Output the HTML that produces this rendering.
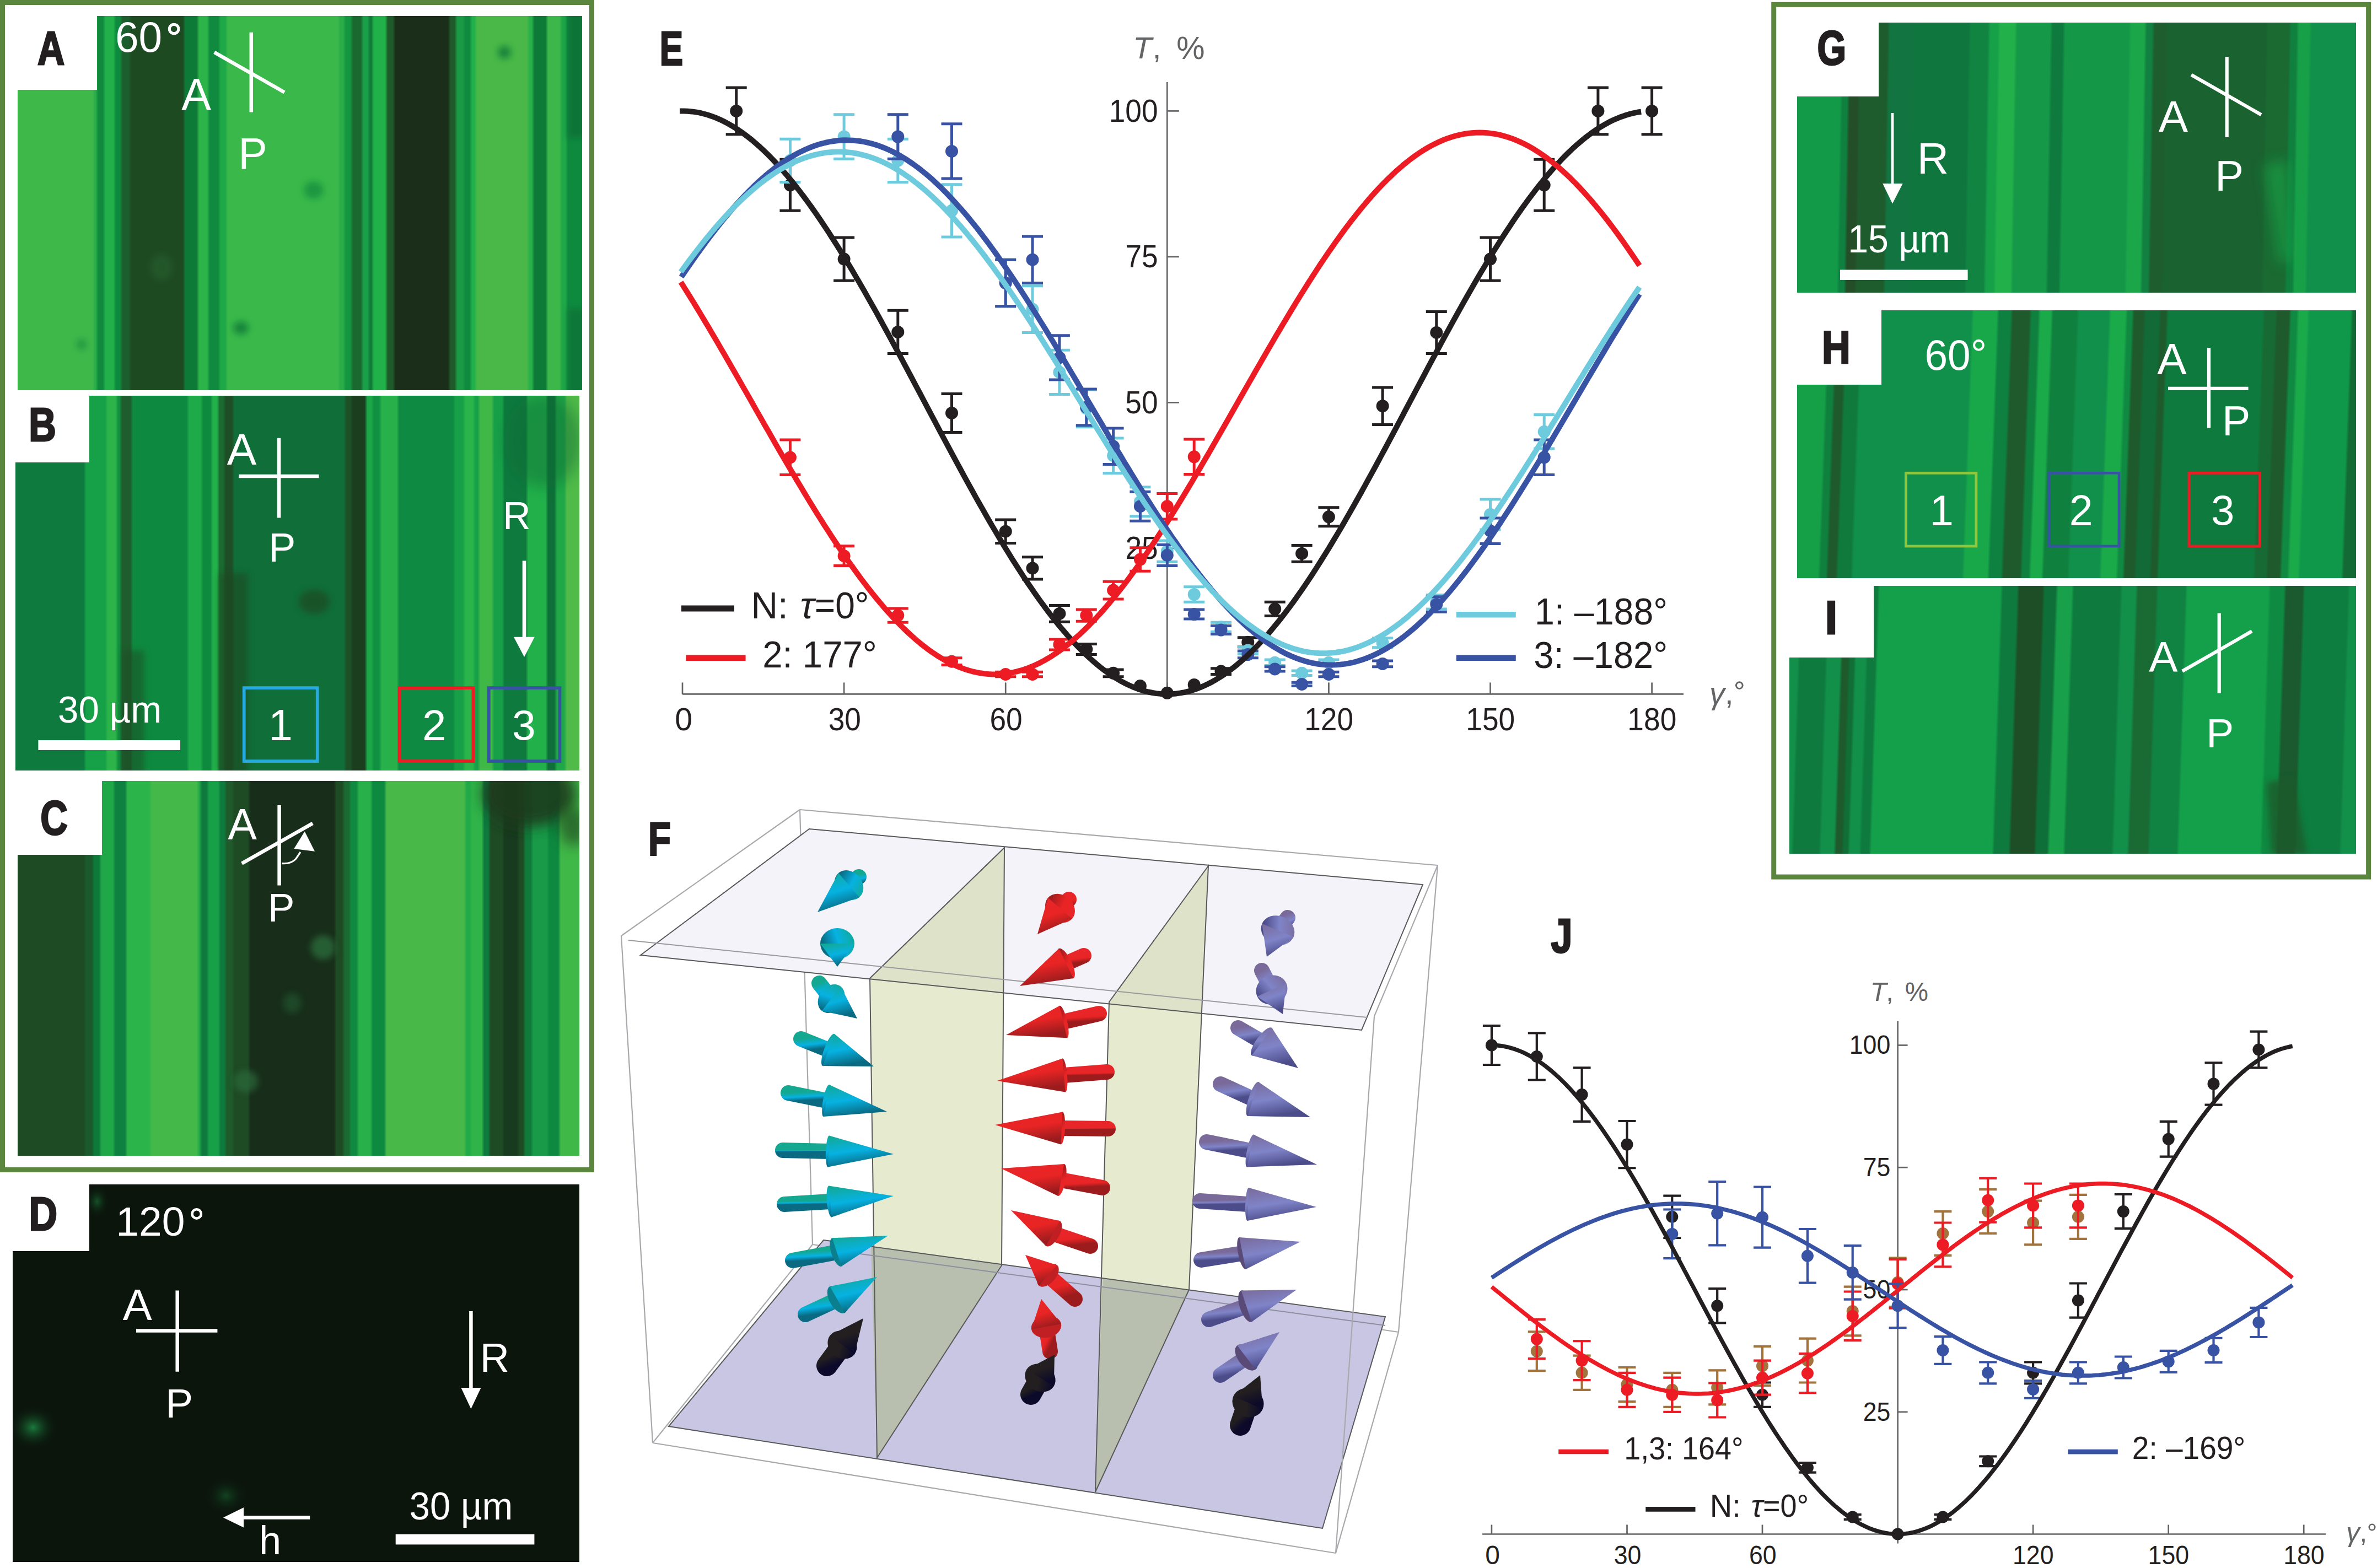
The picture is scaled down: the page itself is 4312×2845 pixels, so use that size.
<!DOCTYPE html>
<html><head><meta charset="utf-8"><style>
html,body{margin:0;padding:0;background:#fff;}
svg{display:block;}
text{font-family:"Liberation Sans", sans-serif;font-kerning:none;}
</style></head><body>
<svg width="4312" height="2845" viewBox="0 0 4312 2845">
<defs>
<linearGradient id="gA" gradientUnits="userSpaceOnUse" x1="32" y1="0" x2="1056" y2="0"><stop offset="0.00000" stop-color="#3fb84a"/><stop offset="0.13232" stop-color="#3fb84a"/><stop offset="0.13721" stop-color="#2aae4a"/><stop offset="0.13818" stop-color="#2aae4a"/><stop offset="0.14307" stop-color="#0f8a3e"/><stop offset="0.15088" stop-color="#0f8a3e"/><stop offset="0.15576" stop-color="#22b04a"/><stop offset="0.16943" stop-color="#22b04a"/><stop offset="0.17432" stop-color="#0e8a3e"/><stop offset="0.18115" stop-color="#0e8a3e"/><stop offset="0.18604" stop-color="#1d5e2e"/><stop offset="0.19678" stop-color="#1d5e2e"/><stop offset="0.20166" stop-color="#1e4a22"/><stop offset="0.29248" stop-color="#1e4a22"/><stop offset="0.29736" stop-color="#0e7a38"/><stop offset="0.31689" stop-color="#0e7a38"/><stop offset="0.32178" stop-color="#2cb44a"/><stop offset="0.33545" stop-color="#2cb44a"/><stop offset="0.34033" stop-color="#0f8a3e"/><stop offset="0.35498" stop-color="#0f8a3e"/><stop offset="0.35986" stop-color="#1fa848"/><stop offset="0.36768" stop-color="#1fa848"/><stop offset="0.37256" stop-color="#3ab84a"/><stop offset="0.56689" stop-color="#3ab84a"/><stop offset="0.57178" stop-color="#2aac48"/><stop offset="0.57666" stop-color="#2aac48"/><stop offset="0.58154" stop-color="#14953f"/><stop offset="0.58936" stop-color="#14953f"/><stop offset="0.59424" stop-color="#1a6a30"/><stop offset="0.60791" stop-color="#1a6a30"/><stop offset="0.61279" stop-color="#1aa048"/><stop offset="0.61963" stop-color="#1aa048"/><stop offset="0.62451" stop-color="#107a38"/><stop offset="0.62646" stop-color="#107a38"/><stop offset="0.63135" stop-color="#22b04a"/><stop offset="0.65088" stop-color="#22b04a"/><stop offset="0.65576" stop-color="#1f5a2a"/><stop offset="0.66455" stop-color="#1f5a2a"/><stop offset="0.66943" stop-color="#1a2e1a"/><stop offset="0.76221" stop-color="#1a2e1a"/><stop offset="0.76709" stop-color="#1f5a2a"/><stop offset="0.77393" stop-color="#1f5a2a"/><stop offset="0.77881" stop-color="#1a9a45"/><stop offset="0.78857" stop-color="#1a9a45"/><stop offset="0.79346" stop-color="#0f8a3e"/><stop offset="0.80029" stop-color="#0f8a3e"/><stop offset="0.80518" stop-color="#22b04a"/><stop offset="0.80908" stop-color="#22b04a"/><stop offset="0.81396" stop-color="#4ab848"/><stop offset="0.90186" stop-color="#4ab848"/><stop offset="0.90674" stop-color="#2ab04a"/><stop offset="0.91064" stop-color="#2ab04a"/><stop offset="0.91553" stop-color="#0e7a38"/><stop offset="0.93506" stop-color="#0e7a38"/><stop offset="0.93994" stop-color="#3cb84a"/><stop offset="0.95947" stop-color="#3cb84a"/><stop offset="0.96436" stop-color="#20a848"/><stop offset="0.97021" stop-color="#20a848"/><stop offset="0.97510" stop-color="#0e8a3e"/><stop offset="1.00000" stop-color="#0e8a3e"/></linearGradient>
<linearGradient id="gB" gradientUnits="userSpaceOnUse" x1="28" y1="0" x2="1051" y2="0"><stop offset="0.00000" stop-color="#0e7a3e"/><stop offset="0.12072" stop-color="#0e7a3e"/><stop offset="0.12561" stop-color="#16a048"/><stop offset="0.15885" stop-color="#16a048"/><stop offset="0.16373" stop-color="#2cb44a"/><stop offset="0.17742" stop-color="#2cb44a"/><stop offset="0.18231" stop-color="#129040"/><stop offset="0.18426" stop-color="#129040"/><stop offset="0.18915" stop-color="#1e5e2e"/><stop offset="0.20381" stop-color="#1e5e2e"/><stop offset="0.20870" stop-color="#0e8a40"/><stop offset="0.30352" stop-color="#0e8a40"/><stop offset="0.30841" stop-color="#1eaa48"/><stop offset="0.32796" stop-color="#1eaa48"/><stop offset="0.33284" stop-color="#0e8a3e"/><stop offset="0.34555" stop-color="#0e8a3e"/><stop offset="0.35044" stop-color="#22b04a"/><stop offset="0.35728" stop-color="#22b04a"/><stop offset="0.36217" stop-color="#1a6a32"/><stop offset="0.36804" stop-color="#1a6a32"/><stop offset="0.37292" stop-color="#1e4e26"/><stop offset="0.38368" stop-color="#1e4e26"/><stop offset="0.38856" stop-color="#106e38"/><stop offset="0.58211" stop-color="#106e38"/><stop offset="0.58700" stop-color="#1e5028"/><stop offset="0.59384" stop-color="#1e5028"/><stop offset="0.59873" stop-color="#1a3e1e"/><stop offset="0.61926" stop-color="#1a3e1e"/><stop offset="0.62414" stop-color="#1ca648"/><stop offset="0.63099" stop-color="#1ca648"/><stop offset="0.63587" stop-color="#109040"/><stop offset="0.64467" stop-color="#109040"/><stop offset="0.64956" stop-color="#28b04a"/><stop offset="0.67595" stop-color="#28b04a"/><stop offset="0.68084" stop-color="#0f8a42"/><stop offset="0.77566" stop-color="#0f8a42"/><stop offset="0.78055" stop-color="#18a048"/><stop offset="0.79326" stop-color="#18a048"/><stop offset="0.79814" stop-color="#2ab44a"/><stop offset="0.81085" stop-color="#2ab44a"/><stop offset="0.81574" stop-color="#18a048"/><stop offset="0.81965" stop-color="#18a048"/><stop offset="0.82454" stop-color="#40b848"/><stop offset="0.84409" stop-color="#40b848"/><stop offset="0.84897" stop-color="#18a048"/><stop offset="0.86266" stop-color="#18a048"/><stop offset="0.86755" stop-color="#0e7a3e"/><stop offset="0.90469" stop-color="#0e7a3e"/><stop offset="0.90958" stop-color="#22b04a"/><stop offset="0.93988" stop-color="#22b04a"/><stop offset="0.94477" stop-color="#0e7038"/><stop offset="0.95552" stop-color="#0e7038"/><stop offset="0.96041" stop-color="#20a848"/><stop offset="0.97312" stop-color="#20a848"/><stop offset="0.97801" stop-color="#50bb48"/><stop offset="1.00000" stop-color="#50bb48"/></linearGradient>
<linearGradient id="gC" gradientUnits="userSpaceOnUse" x1="32" y1="0" x2="1051" y2="0"><stop offset="0.00000" stop-color="#1e4a24"/><stop offset="0.11727" stop-color="#1e4a24"/><stop offset="0.12218" stop-color="#1a5a2c"/><stop offset="0.13199" stop-color="#1a5a2c"/><stop offset="0.13690" stop-color="#0e7a3a"/><stop offset="0.14475" stop-color="#0e7a3a"/><stop offset="0.14966" stop-color="#20a848"/><stop offset="0.16928" stop-color="#20a848"/><stop offset="0.17419" stop-color="#0e8040"/><stop offset="0.19087" stop-color="#0e8040"/><stop offset="0.19578" stop-color="#2ab44a"/><stop offset="0.23405" stop-color="#2ab44a"/><stop offset="0.23896" stop-color="#44b848"/><stop offset="0.31845" stop-color="#44b848"/><stop offset="0.32336" stop-color="#22aa48"/><stop offset="0.32336" stop-color="#22aa48"/><stop offset="0.32826" stop-color="#0e7a3e"/><stop offset="0.33611" stop-color="#0e7a3e"/><stop offset="0.34102" stop-color="#18a048"/><stop offset="0.35672" stop-color="#18a048"/><stop offset="0.36163" stop-color="#0e7a3e"/><stop offset="0.36752" stop-color="#0e7a3e"/><stop offset="0.37242" stop-color="#1e5a2c"/><stop offset="0.38126" stop-color="#1e5a2c"/><stop offset="0.38616" stop-color="#1e4a24"/><stop offset="0.40972" stop-color="#1e4a24"/><stop offset="0.41462" stop-color="#182e1a"/><stop offset="0.56281" stop-color="#182e1a"/><stop offset="0.56771" stop-color="#1e4a24"/><stop offset="0.57753" stop-color="#1e4a24"/><stop offset="0.58243" stop-color="#1a6a32"/><stop offset="0.58930" stop-color="#1a6a32"/><stop offset="0.59421" stop-color="#108a40"/><stop offset="0.60304" stop-color="#108a40"/><stop offset="0.60795" stop-color="#28b04a"/><stop offset="0.62758" stop-color="#28b04a"/><stop offset="0.63248" stop-color="#0e8a40"/><stop offset="0.65211" stop-color="#0e8a40"/><stop offset="0.65702" stop-color="#48b848"/><stop offset="0.79441" stop-color="#48b848"/><stop offset="0.79931" stop-color="#22aa48"/><stop offset="0.80422" stop-color="#22aa48"/><stop offset="0.80913" stop-color="#30b44a"/><stop offset="0.82581" stop-color="#30b44a"/><stop offset="0.83072" stop-color="#0e7a3e"/><stop offset="0.83759" stop-color="#0e7a3e"/><stop offset="0.84249" stop-color="#1e4a24"/><stop offset="0.86212" stop-color="#1e4a24"/><stop offset="0.86703" stop-color="#183a1e"/><stop offset="0.88862" stop-color="#183a1e"/><stop offset="0.89352" stop-color="#1e4a24"/><stop offset="0.89941" stop-color="#1e4a24"/><stop offset="0.90432" stop-color="#107a3a"/><stop offset="0.91315" stop-color="#107a3a"/><stop offset="0.91806" stop-color="#189a48"/><stop offset="0.94161" stop-color="#189a48"/><stop offset="0.94652" stop-color="#0e8a40"/><stop offset="0.96222" stop-color="#0e8a40"/><stop offset="0.96712" stop-color="#40b848"/><stop offset="1.00000" stop-color="#40b848"/></linearGradient>
<radialGradient id="blob1"><stop offset="0" stop-color="#1b7a3c" stop-opacity="1"/><stop offset="1" stop-color="#0b150c" stop-opacity="0"/></radialGradient>
<clipPath id="cpD"><path d="M162 2149 H1051 V2834 H23 V2270 H162 Z"/></clipPath>
<linearGradient id="gG" gradientUnits="userSpaceOnUse" x1="3260" y1="0" x2="4274" y2="0" gradientTransform="translate(0 300) skewX(-1) translate(0 -300)"><stop offset="0.00000" stop-color="#129a48"/><stop offset="0.07446" stop-color="#129a48"/><stop offset="0.07939" stop-color="#0f8040"/><stop offset="0.08728" stop-color="#0f8040"/><stop offset="0.09221" stop-color="#244e28"/><stop offset="0.10602" stop-color="#244e28"/><stop offset="0.11095" stop-color="#1e5c2e"/><stop offset="0.15730" stop-color="#1e5c2e"/><stop offset="0.16223" stop-color="#127440"/><stop offset="0.20168" stop-color="#127440"/><stop offset="0.20661" stop-color="#0f763d"/><stop offset="0.30227" stop-color="#0f763d"/><stop offset="0.30720" stop-color="#118442"/><stop offset="0.33679" stop-color="#118442"/><stop offset="0.34172" stop-color="#16a048"/><stop offset="0.35454" stop-color="#16a048"/><stop offset="0.35947" stop-color="#22b04a"/><stop offset="0.38511" stop-color="#22b04a"/><stop offset="0.39004" stop-color="#159848"/><stop offset="0.44822" stop-color="#159848"/><stop offset="0.45316" stop-color="#0e7a3e"/><stop offset="0.47091" stop-color="#0e7a3e"/><stop offset="0.47584" stop-color="#149848"/><stop offset="0.58925" stop-color="#149848"/><stop offset="0.59418" stop-color="#1ca64a"/><stop offset="0.61686" stop-color="#1ca64a"/><stop offset="0.62179" stop-color="#118040"/><stop offset="0.63067" stop-color="#118040"/><stop offset="0.63560" stop-color="#1e5e2e"/><stop offset="0.65533" stop-color="#1e5e2e"/><stop offset="0.66026" stop-color="#1a6230"/><stop offset="0.83383" stop-color="#1a6230"/><stop offset="0.83876" stop-color="#1a6a32"/><stop offset="0.87525" stop-color="#1a6a32"/><stop offset="0.88018" stop-color="#10803e"/><stop offset="0.88905" stop-color="#10803e"/><stop offset="0.89398" stop-color="#18a048"/><stop offset="0.91174" stop-color="#18a048"/><stop offset="0.91667" stop-color="#10904a"/><stop offset="1.00000" stop-color="#10904a"/></linearGradient>
<linearGradient id="gH" gradientUnits="userSpaceOnUse" x1="3260" y1="0" x2="4274" y2="0" gradientTransform="translate(0 830) skewX(-2.1) translate(0 -830)"><stop offset="0.00000" stop-color="#15a048"/><stop offset="0.04487" stop-color="#15a048"/><stop offset="0.04980" stop-color="#10803e"/><stop offset="0.05868" stop-color="#10803e"/><stop offset="0.06361" stop-color="#1e5a2c"/><stop offset="0.07643" stop-color="#1e5a2c"/><stop offset="0.08136" stop-color="#107a3c"/><stop offset="0.10306" stop-color="#107a3c"/><stop offset="0.10799" stop-color="#10904a"/><stop offset="0.30227" stop-color="#10904a"/><stop offset="0.30720" stop-color="#18a84a"/><stop offset="0.34763" stop-color="#18a84a"/><stop offset="0.35256" stop-color="#0e8040"/><stop offset="0.37229" stop-color="#0e8040"/><stop offset="0.37722" stop-color="#1e5a2c"/><stop offset="0.40582" stop-color="#1e5a2c"/><stop offset="0.41075" stop-color="#10803e"/><stop offset="0.42160" stop-color="#10803e"/><stop offset="0.42653" stop-color="#1aaa4a"/><stop offset="0.44428" stop-color="#1aaa4a"/><stop offset="0.44921" stop-color="#10803e"/><stop offset="0.49063" stop-color="#10803e"/><stop offset="0.49556" stop-color="#10904a"/><stop offset="0.54783" stop-color="#10904a"/><stop offset="0.55276" stop-color="#1aaa4a"/><stop offset="0.57742" stop-color="#1aaa4a"/><stop offset="0.58235" stop-color="#108a42"/><stop offset="0.58925" stop-color="#108a42"/><stop offset="0.59418" stop-color="#1e5a2c"/><stop offset="0.60996" stop-color="#1e5a2c"/><stop offset="0.61489" stop-color="#126a36"/><stop offset="0.63757" stop-color="#126a36"/><stop offset="0.64250" stop-color="#1e5a2c"/><stop offset="0.65039" stop-color="#1e5a2c"/><stop offset="0.65533" stop-color="#0e7a3e"/><stop offset="0.82298" stop-color="#0e7a3e"/><stop offset="0.82791" stop-color="#186a34"/><stop offset="0.84566" stop-color="#186a34"/><stop offset="0.85059" stop-color="#1e5a2c"/><stop offset="0.87032" stop-color="#1e5a2c"/><stop offset="0.87525" stop-color="#108a42"/><stop offset="0.88412" stop-color="#108a42"/><stop offset="0.88905" stop-color="#1aaa4a"/><stop offset="0.90286" stop-color="#1aaa4a"/><stop offset="0.90779" stop-color="#10984a"/><stop offset="0.98077" stop-color="#10984a"/><stop offset="0.98570" stop-color="#146a34"/><stop offset="1.00000" stop-color="#146a34"/></linearGradient>
<linearGradient id="gI" gradientUnits="userSpaceOnUse" x1="3246" y1="0" x2="4274" y2="0" gradientTransform="translate(0 1350) skewX(-1.9) translate(0 -1350)"><stop offset="0.00000" stop-color="#12904a"/><stop offset="0.00924" stop-color="#12904a"/><stop offset="0.01411" stop-color="#0e7a3e"/><stop offset="0.05788" stop-color="#0e7a3e"/><stop offset="0.06274" stop-color="#12904a"/><stop offset="0.08414" stop-color="#12904a"/><stop offset="0.08901" stop-color="#1e5a2c"/><stop offset="0.09776" stop-color="#1e5a2c"/><stop offset="0.10263" stop-color="#106e36"/><stop offset="0.10846" stop-color="#106e36"/><stop offset="0.11333" stop-color="#12904a"/><stop offset="0.12889" stop-color="#12904a"/><stop offset="0.13375" stop-color="#0e7a3e"/><stop offset="0.14640" stop-color="#0e7a3e"/><stop offset="0.15126" stop-color="#14a04a"/><stop offset="0.36333" stop-color="#14a04a"/><stop offset="0.36819" stop-color="#0e7a3e"/><stop offset="0.39251" stop-color="#0e7a3e"/><stop offset="0.39737" stop-color="#1e4e26"/><stop offset="0.43726" stop-color="#1e4e26"/><stop offset="0.44212" stop-color="#0e7038"/><stop offset="0.46060" stop-color="#0e7038"/><stop offset="0.46547" stop-color="#18a04a"/><stop offset="0.48881" stop-color="#18a04a"/><stop offset="0.49368" stop-color="#0e7a3e"/><stop offset="0.57442" stop-color="#0e7a3e"/><stop offset="0.57928" stop-color="#12904a"/><stop offset="0.60165" stop-color="#12904a"/><stop offset="0.60652" stop-color="#1a6a34"/><stop offset="0.63765" stop-color="#1a6a34"/><stop offset="0.64251" stop-color="#108242"/><stop offset="0.68920" stop-color="#108242"/><stop offset="0.69407" stop-color="#14a04a"/><stop offset="0.83609" stop-color="#14a04a"/><stop offset="0.84095" stop-color="#0f8a42"/><stop offset="0.86333" stop-color="#0f8a42"/><stop offset="0.86819" stop-color="#1a5a2e"/><stop offset="0.89640" stop-color="#1a5a2e"/><stop offset="0.90126" stop-color="#0e7e40"/><stop offset="0.91294" stop-color="#0e7e40"/><stop offset="0.91780" stop-color="#0e7e40"/><stop offset="0.97617" stop-color="#0e7e40"/><stop offset="0.98103" stop-color="#12904a"/><stop offset="1.00000" stop-color="#12904a"/></linearGradient>
<filter id="bl6" x="-50%" y="-50%" width="200%" height="200%"><feGaussianBlur stdDeviation="6"/></filter>
<filter id="bl12" x="-50%" y="-50%" width="200%" height="200%"><feGaussianBlur stdDeviation="12"/></filter>
<clipPath id="cpA"><path d="M176 29 H1056 V708 H32 V163 H176 Z"/></clipPath>
<clipPath id="cpB"><path d="M162 718 H1051 V1398 H28 V839 H162 Z"/></clipPath>
<clipPath id="cpC"><path d="M185 1417 H1051 V2097 H32 V1551 H185 Z"/></clipPath>
<clipPath id="cpI"><path d="M3399 1063 H4274 V1549 H3246 V1193 H3399 Z"/></clipPath>
<clipPath id="cpG"><path d="M3408 41 H4274 V531 H3260 V175 H3408 Z"/></clipPath>

<linearGradient id="acy" x1="0" y1="0" x2="0.3" y2="1"><stop offset="0" stop-color="#14a890"/><stop offset="0.55" stop-color="#06b2e2"/><stop offset="1" stop-color="#0a6a82"/></linearGradient>
<linearGradient id="are" x1="0" y1="0" x2="0.3" y2="1"><stop offset="0" stop-color="#e8262a"/><stop offset="0.55" stop-color="#e82424"/><stop offset="1" stop-color="#9c1c1e"/></linearGradient>
<linearGradient id="apu" x1="0" y1="0" x2="0.3" y2="1"><stop offset="0" stop-color="#7a6a9a"/><stop offset="0.55" stop-color="#7f84c8"/><stop offset="1" stop-color="#4c4c8a"/></linearGradient>
<linearGradient id="abk" x1="0" y1="0" x2="0.3" y2="1"><stop offset="0" stop-color="#231f20"/><stop offset="0.55" stop-color="#231f20"/><stop offset="1" stop-color="#0c0a2a"/></linearGradient>
</defs>
<rect width="4312" height="2845" fill="#fff"/>
<rect x="4.5" y="4.5" width="1069" height="2118" fill="none" stroke="#5a873d" stroke-width="9"/>
<path d="M176.0 29.0 H1056.0 V708.0 H32.0 V163.0 H176.0 Z" fill="url(#gA)"/>
<g clip-path="url(#cpA)"><ellipse cx="915.0" cy="95.0" rx="12.0" ry="12.0" fill="#0f7a38" opacity="0.80" filter="url(#bl6)"/><ellipse cx="569.0" cy="345.0" rx="18.0" ry="16.0" fill="#14903f" opacity="0.80" filter="url(#bl6)"/><ellipse cx="437.0" cy="595.0" rx="14.0" ry="12.0" fill="#0f7a38" opacity="0.80" filter="url(#bl6)"/><ellipse cx="148.0" cy="625.0" rx="10.0" ry="10.0" fill="#14903f" opacity="0.70" filter="url(#bl6)"/><ellipse cx="293.0" cy="485.0" rx="20.0" ry="24.0" fill="#2a6a34" opacity="0.40" filter="url(#bl6)"/><rect x="1030" y="20" width="30" height="230" fill="#0e6a36" opacity="0.7" filter="url(#bl6)"/><rect x="1030" y="560" width="30" height="160" fill="#0e6a36" opacity="0.6" filter="url(#bl6)"/></g>
<text transform="translate(68.00 116.80) scale(0.796 1)" font-size="85.61" font-weight="bold" fill="#231f20" stroke="#231f20" stroke-width="3.0" stroke-linejoin="miter">A</text>
<text x="209.01" y="94.40" font-size="78.05" fill="#fff" font-weight="normal" font-style="normal" textLength="85.18" lengthAdjust="spacingAndGlyphs" >60</text>
<circle cx="315.6" cy="52.5" r="8.3" fill="none" stroke="#fff" stroke-width="5.0"/>
<line x1="455.8" y1="58.8" x2="455.8" y2="203.6" stroke="#fff" stroke-width="6.5" stroke-linecap="butt" />
<line x1="388.8" y1="94.9" x2="516.0" y2="167.5" stroke="#fff" stroke-width="6.5" stroke-linecap="butt" />
<text x="329.34" y="199.00" font-size="80.67" fill="#fff" font-weight="normal" font-style="normal" >A</text>
<text x="432.24" y="306.40" font-size="78.78" fill="#fff" font-weight="normal" font-style="normal" >P</text>
<path d="M162.0 718.0 H1051.0 V1398.0 H28.0 V839.0 H162.0 Z" fill="url(#gB)"/>
<g clip-path="url(#cpB)"><ellipse cx="985.0" cy="800.0" rx="70.0" ry="85.0" fill="#0f6a36" opacity="0.45" filter="url(#bl12)"/><ellipse cx="570.0" cy="1092.0" rx="28.0" ry="22.0" fill="#1e4a24" opacity="0.70" filter="url(#bl6)"/><rect x="398" y="1040" width="52" height="370" fill="#1e4a24" opacity="0.6" filter="url(#bl6)"/><rect x="222" y="1180" width="40" height="230" fill="#1e4a24" opacity="0.5" filter="url(#bl6)"/></g>
<text transform="translate(52.31 800.20) scale(0.805 1)" font-size="85.32" font-weight="bold" fill="#231f20" stroke="#231f20" stroke-width="3.0" stroke-linejoin="miter">B</text>
<line x1="506.0" y1="794.7" x2="506.0" y2="939.5" stroke="#fff" stroke-width="6.6" stroke-linecap="butt" />
<line x1="433.2" y1="864.0" x2="578.5" y2="864.0" stroke="#fff" stroke-width="6.6" stroke-linecap="butt" />
<text x="411.84" y="842.80" font-size="80.23" fill="#fff" font-weight="normal" font-style="normal" >A</text>
<text x="486.93" y="1018.80" font-size="73.98" fill="#fff" font-weight="normal" font-style="normal" >P</text>
<text x="912.28" y="960.00" font-size="69.77" fill="#fff" font-weight="normal" font-style="normal" >R</text>
<line x1="951.0" y1="1017.4" x2="951.0" y2="1157.0" stroke="#fff" stroke-width="6.6" stroke-linecap="butt" />
<polygon points="932.0,1155.7 969.8,1155.7 951.0,1192.0" fill="#fff" />
<text x="105.04" y="1311.30" font-size="67.74" fill="#fff" font-weight="normal" font-style="normal" textLength="188.19" lengthAdjust="spacingAndGlyphs" >30 µm</text>
<rect x="69.4" y="1343.0" width="257.6" height="18.0" fill="#fff"/>
<rect x="442.7" y="1248.1" width="133.0" height="133.0" fill="none" stroke="#27aae1" stroke-width="5.7"/>
<rect x="724.9" y="1248.1" width="133.5" height="133.0" fill="none" stroke="#ed1c24" stroke-width="5.7"/>
<rect x="886.8" y="1248.1" width="128.7" height="133.0" fill="none" stroke="#3953a4" stroke-width="5.7"/>
<text x="486.99" y="1343.00" font-size="78.93" fill="#fff" font-weight="normal" font-style="normal" >1</text>
<text x="766.09" y="1343.00" font-size="77.77" fill="#fff" font-weight="normal" font-style="normal" >2</text>
<text x="929.08" y="1342.30" font-size="76.76" fill="#fff" font-weight="normal" font-style="normal" >3</text>
<path d="M185.0 1417.0 H1051.0 V2097.0 H32.0 V1551.0 H185.0 Z" fill="url(#gC)"/>
<g clip-path="url(#cpC)"><ellipse cx="960.0" cy="1440.0" rx="85.0" ry="60.0" fill="#1a3a1e" opacity="0.90" filter="url(#bl12)"/><ellipse cx="1040.0" cy="1500.0" rx="25.0" ry="35.0" fill="#1a3a1e" opacity="0.60" filter="url(#bl12)"/><ellipse cx="586.0" cy="1719.0" rx="22.0" ry="22.0" fill="#2a6a3a" opacity="0.80" filter="url(#bl6)"/><ellipse cx="446.0" cy="1962.0" rx="22.0" ry="20.0" fill="#2a6a3a" opacity="0.70" filter="url(#bl6)"/><ellipse cx="530.0" cy="1820.0" rx="16.0" ry="18.0" fill="#245a30" opacity="0.60" filter="url(#bl6)"/></g>
<text transform="translate(73.36 1513.50) scale(0.782 1)" font-size="87.65" font-weight="bold" fill="#231f20" stroke="#231f20" stroke-width="3.0" stroke-linejoin="miter">C</text>
<line x1="506.6" y1="1461.0" x2="506.6" y2="1606.4" stroke="#fff" stroke-width="6.5" stroke-linecap="butt" />
<line x1="438.7" y1="1566.6" x2="567.2" y2="1493.9" stroke="#fff" stroke-width="6.5" stroke-linecap="butt" />
<text x="413.35" y="1523.00" font-size="78.93" fill="#fff" font-weight="normal" font-style="normal" >A</text>
<text x="486.05" y="1672.30" font-size="72.53" fill="#fff" font-weight="normal" font-style="normal" >P</text>
<path d="M511.5 1566.6 Q528 1568 537 1558 L545 1546" fill="none" stroke="#fff" stroke-width="3.2"/>
<polygon points="533.3,1540.0 552.7,1508.5 571.0,1544.8" fill="#fff" />
<path d="M162 2149 H1051 V2834 H23 V2270 H162 Z" fill="#0b150c"/>
<g clip-path="url(#cpD)">
<ellipse cx="60" cy="2590" rx="45" ry="40" fill="url(#blob1)"/>
<ellipse cx="410" cy="2714" rx="40" ry="35" fill="url(#blob1)" opacity="0.45"/>
<ellipse cx="176" cy="2180" rx="22" ry="30" fill="url(#blob1)" opacity="0.6"/>
</g>
<text transform="translate(52.48 2231.50) scale(0.837 1)" font-size="85.32" font-weight="bold" fill="#231f20" stroke="#231f20" stroke-width="3.0" stroke-linejoin="miter">D</text>
<text x="210.28" y="2241.50" font-size="73.76" fill="#fff" font-weight="normal" font-style="normal" textLength="125.25" lengthAdjust="spacingAndGlyphs" >120</text>
<circle cx="356.7" cy="2202.4" r="8.2" fill="none" stroke="#fff" stroke-width="4.6"/>
<line x1="321.7" y1="2341.4" x2="321.7" y2="2488.7" stroke="#fff" stroke-width="6.5" stroke-linecap="butt" />
<line x1="247.0" y1="2414.6" x2="394.4" y2="2414.6" stroke="#fff" stroke-width="6.5" stroke-linecap="butt" />
<text x="222.84" y="2394.60" font-size="79.36" fill="#fff" font-weight="normal" font-style="normal" >A</text>
<text x="300.37" y="2572.00" font-size="74.71" fill="#fff" font-weight="normal" font-style="normal" >P</text>
<text x="870.65" y="2488.70" font-size="73.69" fill="#fff" font-weight="normal" font-style="normal" >R</text>
<line x1="854.4" y1="2379.0" x2="854.4" y2="2520.6" stroke="#fff" stroke-width="6.5" stroke-linecap="butt" />
<polygon points="836.4,2518.0 872.5,2518.0 854.4,2556.2" fill="#fff" />
<line x1="440.0" y1="2753.4" x2="562.2" y2="2753.4" stroke="#fff" stroke-width="6.5" stroke-linecap="butt" />
<polygon points="404.9,2753.4 442.0,2735.3 442.0,2771.5" fill="#fff" />
<text x="470.00" y="2820.00" font-size="72.18" fill="#fff" font-weight="normal" font-style="normal" >h</text>
<text x="742.85" y="2756.50" font-size="69.46" fill="#fff" font-weight="normal" font-style="normal" textLength="187.46" lengthAdjust="spacingAndGlyphs" >30 µm</text>
<rect x="717.7" y="2783.7" width="251.7" height="18.7" fill="#fff"/>
<rect x="3217.7" y="8.3" width="1078.9" height="1582.8" fill="none" stroke="#5a873d" stroke-width="9"/>
<path d="M3408.0 41.0 H4274.0 V531.0 H3260.0 V175.0 H3408.0 Z" fill="url(#gG)"/>
<g clip-path="url(#cpG)"><polygon points="4108,300 4150,290 4160,470 4135,480" fill="#18a848" opacity="0.6" filter="url(#bl12)"/></g>
<text transform="translate(3296.40 116.90) scale(0.783 1)" font-size="86.34" font-weight="bold" fill="#231f20" stroke="#231f20" stroke-width="3.0" stroke-linejoin="miter">G</text>
<line x1="3433.0" y1="205.0" x2="3433.0" y2="335.0" stroke="#fff" stroke-width="4.7" stroke-linecap="butt" />
<polygon points="3415.2,333.0 3451.7,333.0 3433.0,369.6" fill="#fff" />
<text x="3477.69" y="314.80" font-size="79.36" fill="#fff" font-weight="normal" font-style="normal" >R</text>
<text x="3352.15" y="457.50" font-size="70.79" fill="#fff" font-weight="normal" font-style="normal" textLength="185.52" lengthAdjust="spacingAndGlyphs" >15 µm</text>
<rect x="3338.0" y="489.5" width="231.6" height="18.5" fill="#fff"/>
<line x1="4039.7" y1="102.9" x2="4039.7" y2="248.9" stroke="#fff" stroke-width="6.2" stroke-linecap="butt" />
<line x1="3975.1" y1="135.7" x2="4102.0" y2="208.2" stroke="#fff" stroke-width="6.2" stroke-linecap="butt" />
<text x="3915.84" y="239.00" font-size="79.94" fill="#fff" font-weight="normal" font-style="normal" >A</text>
<text x="4018.33" y="346.40" font-size="77.62" fill="#fff" font-weight="normal" font-style="normal" >P</text>
<path d="M3413.0 563.0 H4274.0 V1049.0 H3260.0 V698.0 H3413.0 Z" fill="url(#gH)"/>
<text transform="translate(3304.99 658.80) scale(0.852 1)" font-size="84.01" font-weight="bold" fill="#231f20" stroke="#231f20" stroke-width="3.0" stroke-linejoin="miter">H</text>
<text x="3491.41" y="670.60" font-size="77.05" fill="#fff" font-weight="normal" font-style="normal" textLength="83.11" lengthAdjust="spacingAndGlyphs" >60</text>
<circle cx="3589.4" cy="626.3" r="8.4" fill="none" stroke="#fff" stroke-width="4.1"/>
<line x1="4007.0" y1="630.9" x2="4007.0" y2="776.4" stroke="#fff" stroke-width="6.2" stroke-linecap="butt" />
<line x1="3933.0" y1="704.8" x2="4078.5" y2="704.8" stroke="#fff" stroke-width="6.2" stroke-linecap="butt" />
<text x="3913.24" y="679.00" font-size="80.09" fill="#fff" font-weight="normal" font-style="normal" >A</text>
<text x="4031.09" y="790.40" font-size="76.89" fill="#fff" font-weight="normal" font-style="normal" >P</text>
<rect x="3457.4" y="858.3" width="127.5" height="132.7" fill="none" stroke="#8dc63f" stroke-width="4.8"/>
<rect x="3717.0" y="858.3" width="127.1" height="132.7" fill="none" stroke="#3953a4" stroke-width="4.8"/>
<rect x="3971.0" y="858.3" width="128.1" height="132.7" fill="none" stroke="#ed1c24" stroke-width="4.8"/>
<text x="3500.44" y="952.70" font-size="78.20" fill="#fff" font-weight="normal" font-style="normal" >1</text>
<text x="3753.72" y="952.70" font-size="77.05" fill="#fff" font-weight="normal" font-style="normal" >2</text>
<text x="4011.10" y="952.00" font-size="76.05" fill="#fff" font-weight="normal" font-style="normal" >3</text>
<path d="M3399.0 1063.0 H4274.0 V1549.0 H3246.0 V1193.0 H3399.0 Z" fill="url(#gI)"/>
<g clip-path="url(#cpI)"><polygon points="4112,1420 4160,1410 4185,1550 4120,1550" fill="#1e5a2c" opacity="0.8" filter="url(#bl6)"/></g>
<text transform="translate(3310.64 1149.80) scale(0.950 1)" font-size="84.74" font-weight="bold" fill="#231f20" stroke="#231f20" stroke-width="3.0" stroke-linejoin="miter">I</text>
<line x1="4025.7" y1="1112.5" x2="4025.7" y2="1257.5" stroke="#fff" stroke-width="6.2" stroke-linecap="butt" />
<line x1="3958.8" y1="1217.8" x2="4085.0" y2="1145.3" stroke="#fff" stroke-width="6.2" stroke-linecap="butt" />
<text x="3898.25" y="1219.20" font-size="78.20" fill="#fff" font-weight="normal" font-style="normal" >A</text>
<text x="4002.26" y="1355.80" font-size="74.86" fill="#fff" font-weight="normal" font-style="normal" >P</text>
<line x1="1451.0" y1="1469.0" x2="1474.0" y2="2258.0" stroke="#a7a9ac" stroke-width="2.2"/>
<line x1="1474.0" y1="2258.0" x2="2537.0" y2="2417.0" stroke="#a7a9ac" stroke-width="2.2"/>
<line x1="2608.0" y1="1570.0" x2="2537.0" y2="2417.0" stroke="#a7a9ac" stroke-width="2.2"/>
<polygon points="1162.0,1733.0 1468.0,1504.0 2581.0,1605.0 2470.0,1869.0" fill="#f4f3f9" />
<polygon points="1213.0,2588.0 1494.0,2250.0 2513.0,2389.0 2399.0,2773.0" fill="#c8c6e2" />
<polygon points="1822.0,1538.0 1578.0,1775.0 1591.0,2645.0 1817.0,2296.0" fill="#e6ebd0" />
<polygon points="2192.0,1571.0 2012.0,1818.0 1987.0,2707.0 2157.0,2340.0" fill="#e6ebd0" />
<polygon points="1580.0,2262.0 1817.0,2294.0 1591.0,2645.0" fill="#b8bfae" />
<polygon points="2000.0,2319.0 2157.0,2340.0 1987.0,2707.0" fill="#b8bfae" />
<clipPath id="topclip"><polygon points="1162.0,1733.0 1468.0,1504.0 2581.0,1605.0 2470.0,1869.0"/></clipPath>
<g clip-path="url(#topclip)">
<polygon points="1822.0,1538.0 1578.0,1775.0 1591.0,2645.0 1817.0,2296.0" fill="#dde2c8" />
<polygon points="2192.0,1571.0 2012.0,1818.0 1987.0,2707.0 2157.0,2340.0" fill="#dde2c8" />
</g>
<polygon points="1822.0,1538.0 1578.0,1775.0 1591.0,2645.0 1817.0,2296.0" fill="none" stroke="#58595b" stroke-width="2"/>
<polygon points="2192.0,1571.0 2012.0,1818.0 1987.0,2707.0 2157.0,2340.0" fill="none" stroke="#58595b" stroke-width="2"/>
<polygon points="1162.0,1733.0 1468.0,1504.0 2581.0,1605.0 2470.0,1869.0" fill="none" stroke="#58595b" stroke-width="2"/>
<line x1="1140.0" y1="1706.0" x2="2480.0" y2="1846.0" stroke="#9a9b9e" stroke-width="2.0"/>
<polygon points="1213.0,2588.0 1494.0,2250.0 2513.0,2389.0 2399.0,2773.0" fill="none" stroke="#58595b" stroke-width="2"/>
<line x1="1494.0" y1="2266.0" x2="2513.0" y2="2405.0" stroke="#8c8fa0" stroke-width="2.0"/>
<line x1="1127.0" y1="1698.0" x2="1451.0" y2="1469.0" stroke="#a7a9ac" stroke-width="2.2"/>
<line x1="1451.0" y1="1469.0" x2="2608.0" y2="1570.0" stroke="#a7a9ac" stroke-width="2.2"/>
<line x1="2608.0" y1="1570.0" x2="2493.0" y2="1844.0" stroke="#a7a9ac" stroke-width="2.2"/>
<line x1="1127.0" y1="1698.0" x2="1184.0" y2="2618.0" stroke="#a7a9ac" stroke-width="2.2"/>
<line x1="1184.0" y1="2618.0" x2="2423.0" y2="2818.0" stroke="#a7a9ac" stroke-width="2.2"/>
<line x1="2423.0" y1="2818.0" x2="2537.0" y2="2417.0" stroke="#a7a9ac" stroke-width="2.2"/>
<line x1="2493.0" y1="1844.0" x2="2423.0" y2="2818.0" stroke="#a7a9ac" stroke-width="2.2"/>
<line x1="1184.0" y1="2618.0" x2="1474.0" y2="2258.0" stroke="#a7a9ac" stroke-width="2.2"/>
<line x1="1558.0" y1="1591.0" x2="1540.0" y2="1606.0" stroke="url(#acy)" stroke-width="28.0" stroke-linecap="round"/>
<ellipse cx="1540.0" cy="1606.0" rx="24.0" ry="29.0" transform="rotate(139.3 1540.0 1606.0)" fill="url(#acy)"/>
<polygon points="1521.1,1584.0 1483.0,1655.0 1558.9,1628.0" fill="url(#acy)" />
<line x1="1519.0" y1="1680.0" x2="1519.0" y2="1712.0" stroke="url(#acy)" stroke-width="28.0" stroke-linecap="round"/>
<ellipse cx="1519.0" cy="1712.0" rx="28.0" ry="31.0" transform="rotate(90.0 1519.0 1712.0)" fill="url(#acy)"/>
<polygon points="1488.0,1712.0 1519.0,1754.0 1550.0,1712.0" fill="url(#acy)" />
<line x1="1486.0" y1="1784.0" x2="1508.0" y2="1812.0" stroke="url(#acy)" stroke-width="28.0" stroke-linecap="round"/>
<ellipse cx="1508.0" cy="1812.0" rx="22.0" ry="28.0" transform="rotate(37.5 1508.0 1812.0)" fill="url(#acy)"/>
<polygon points="1491.0,1834.2 1555.0,1848.0 1525.0,1789.8" fill="url(#acy)" />
<line x1="1453.0" y1="1885.0" x2="1503.0" y2="1905.0" stroke="url(#acy)" stroke-width="28.0" stroke-linecap="round"/>
<ellipse cx="1503.0" cy="1905.0" rx="8.0" ry="31.0" transform="rotate(20.1 1503.0 1905.0)" fill="url(#acy)"/>
<polygon points="1492.3,1934.1 1585.0,1935.0 1513.7,1875.9" fill="url(#acy)" />
<line x1="1430.0" y1="1983.0" x2="1499.0" y2="1997.0" stroke="url(#acy)" stroke-width="28.0" stroke-linecap="round"/>
<ellipse cx="1499.0" cy="1997.0" rx="6.0" ry="29.5" transform="rotate(10.3 1499.0 1997.0)" fill="url(#acy)"/>
<polygon points="1493.7,2026.0 1609.0,2017.0 1504.3,1968.0" fill="url(#acy)" />
<line x1="1420.0" y1="2087.0" x2="1503.0" y2="2089.0" stroke="url(#acy)" stroke-width="28.0" stroke-linecap="round"/>
<ellipse cx="1503.0" cy="2089.0" rx="5.0" ry="28.5" transform="rotate(2.4 1503.0 2089.0)" fill="url(#acy)"/>
<polygon points="1501.8,2117.5 1621.0,2094.0 1504.2,2060.5" fill="url(#acy)" />
<line x1="1423.0" y1="2185.0" x2="1506.0" y2="2180.0" stroke="url(#acy)" stroke-width="28.0" stroke-linecap="round"/>
<ellipse cx="1506.0" cy="2180.0" rx="6.0" ry="28.5" transform="rotate(-5.0 1506.0 2180.0)" fill="url(#acy)"/>
<polygon points="1508.5,2208.4 1621.0,2170.0 1503.5,2151.6" fill="url(#acy)" />
<line x1="1438.0" y1="2287.0" x2="1518.0" y2="2272.0" stroke="url(#acy)" stroke-width="28.0" stroke-linecap="round"/>
<ellipse cx="1518.0" cy="2272.0" rx="10.0" ry="27.0" transform="rotate(-17.9 1518.0 2272.0)" fill="#0b7f8e"/>
<polygon points="1526.3,2297.7 1611.0,2242.0 1509.7,2246.3" fill="url(#acy)" />
<line x1="1461.0" y1="2385.0" x2="1519.0" y2="2358.0" stroke="url(#acy)" stroke-width="28.0" stroke-linecap="round"/>
<ellipse cx="1519.0" cy="2358.0" rx="14.0" ry="27.5" transform="rotate(-29.7 1519.0 2358.0)" fill="#0b7f8e"/>
<polygon points="1532.6,2381.9 1591.0,2317.0 1505.4,2334.1" fill="url(#acy)" />
<line x1="1939.0" y1="1632.0" x2="1923.0" y2="1648.0" stroke="url(#are)" stroke-width="28.0" stroke-linecap="round"/>
<ellipse cx="1923.0" cy="1648.0" rx="24.0" ry="29.0" transform="rotate(131.1 1923.0 1648.0)" fill="url(#are)"/>
<polygon points="1901.1,1628.9 1882.0,1695.0 1944.9,1667.1" fill="url(#are)" />
<line x1="1966.0" y1="1734.0" x2="1934.0" y2="1748.0" stroke="url(#are)" stroke-width="28.0" stroke-linecap="round"/>
<ellipse cx="1934.0" cy="1748.0" rx="10.0" ry="30.0" transform="rotate(154.0 1934.0 1748.0)" fill="url(#are)"/>
<polygon points="1920.8,1721.0 1850.0,1789.0 1947.2,1775.0" fill="url(#are)" />
<line x1="1994.0" y1="1839.0" x2="1929.0" y2="1854.0" stroke="url(#are)" stroke-width="28.0" stroke-linecap="round"/>
<ellipse cx="1929.0" cy="1854.0" rx="7.0" ry="30.0" transform="rotate(167.0 1929.0 1854.0)" fill="url(#are)"/>
<polygon points="1922.3,1824.8 1825.0,1878.0 1935.7,1883.2" fill="url(#are)" />
<line x1="2008.0" y1="1945.0" x2="1930.0" y2="1951.0" stroke="url(#are)" stroke-width="28.0" stroke-linecap="round"/>
<ellipse cx="1930.0" cy="1951.0" rx="6.0" ry="30.5" transform="rotate(175.3 1930.0 1951.0)" fill="url(#are)"/>
<polygon points="1927.5,1920.6 1809.0,1961.0 1932.5,1981.4" fill="url(#are)" />
<line x1="2010.0" y1="2048.0" x2="1926.0" y2="2047.0" stroke="url(#are)" stroke-width="28.0" stroke-linecap="round"/>
<ellipse cx="1926.0" cy="2047.0" rx="6.0" ry="29.5" transform="rotate(-177.2 1926.0 2047.0)" fill="url(#are)"/>
<polygon points="1927.5,2017.5 1805.0,2041.0 1924.5,2076.5" fill="url(#are)" />
<line x1="2000.0" y1="2155.0" x2="1925.0" y2="2141.0" stroke="url(#are)" stroke-width="28.0" stroke-linecap="round"/>
<ellipse cx="1925.0" cy="2141.0" rx="8.0" ry="29.5" transform="rotate(-169.1 1925.0 2141.0)" fill="url(#are)"/>
<polygon points="1930.6,2112.0 1816.0,2120.0 1919.4,2170.0" fill="url(#are)" />
<line x1="1978.0" y1="2261.0" x2="1910.0" y2="2238.0" stroke="url(#are)" stroke-width="28.0" stroke-linecap="round"/>
<ellipse cx="1910.0" cy="2238.0" rx="12.0" ry="26.0" transform="rotate(-151.1 1910.0 2238.0)" fill="#c02024"/>
<polygon points="1922.6,2215.2 1834.0,2196.0 1897.4,2260.8" fill="url(#are)" />
<line x1="1950.0" y1="2357.0" x2="1901.0" y2="2314.0" stroke="url(#are)" stroke-width="28.0" stroke-linecap="round"/>
<ellipse cx="1901.0" cy="2314.0" rx="14.0" ry="25.0" transform="rotate(-137.9 1901.0 2314.0)" fill="#c02024"/>
<polygon points="1917.7,2295.4 1860.0,2277.0 1884.3,2332.6" fill="url(#are)" />
<line x1="1905.0" y1="2452.0" x2="1898.0" y2="2407.0" stroke="url(#are)" stroke-width="28.0" stroke-linecap="round"/>
<ellipse cx="1898.0" cy="2407.0" rx="20.0" ry="27.5" transform="rotate(-100.2 1898.0 2407.0)" fill="#c02024"/>
<polygon points="1925.1,2402.1 1889.0,2357.0 1870.9,2411.9" fill="url(#are)" />
<line x1="2336.0" y1="1665.0" x2="2318.0" y2="1688.0" stroke="url(#apu)" stroke-width="28.0" stroke-linecap="round"/>
<ellipse cx="2318.0" cy="1688.0" rx="26.0" ry="31.0" transform="rotate(112.6 2318.0 1688.0)" fill="url(#apu)"/>
<polygon points="2289.4,1676.1 2298.0,1736.0 2346.6,1699.9" fill="url(#apu)" />
<line x1="2289.0" y1="1761.0" x2="2307.0" y2="1796.0" stroke="url(#apu)" stroke-width="28.0" stroke-linecap="round"/>
<ellipse cx="2307.0" cy="1796.0" rx="26.0" ry="29.0" transform="rotate(65.6 2307.0 1796.0)" fill="url(#apu)"/>
<polygon points="2280.6,1808.0 2327.0,1840.0 2333.4,1784.0" fill="url(#apu)" />
<line x1="2246.0" y1="1865.0" x2="2289.0" y2="1890.0" stroke="url(#apu)" stroke-width="28.0" stroke-linecap="round"/>
<ellipse cx="2289.0" cy="1890.0" rx="10.0" ry="31.0" transform="rotate(36.0 2289.0 1890.0)" fill="url(#apu)"/>
<polygon points="2270.8,1915.1 2355.0,1938.0 2307.2,1864.9" fill="url(#apu)" />
<line x1="2214.0" y1="1967.0" x2="2273.0" y2="1994.0" stroke="url(#apu)" stroke-width="28.0" stroke-linecap="round"/>
<ellipse cx="2273.0" cy="1994.0" rx="8.0" ry="32.5" transform="rotate(17.6 2273.0 1994.0)" fill="url(#apu)"/>
<polygon points="2263.2,2025.0 2377.0,2027.0 2282.8,1963.0" fill="url(#apu)" />
<line x1="2189.0" y1="2072.0" x2="2268.0" y2="2088.0" stroke="url(#apu)" stroke-width="28.0" stroke-linecap="round"/>
<ellipse cx="2268.0" cy="2088.0" rx="6.0" ry="30.0" transform="rotate(11.7 2268.0 2088.0)" fill="url(#apu)"/>
<polygon points="2261.9,2117.4 2389.0,2113.0 2274.1,2058.6" fill="url(#apu)" />
<line x1="2177.0" y1="2179.0" x2="2264.0" y2="2185.0" stroke="url(#apu)" stroke-width="28.0" stroke-linecap="round"/>
<ellipse cx="2264.0" cy="2185.0" rx="5.0" ry="30.0" transform="rotate(2.3 2264.0 2185.0)" fill="url(#apu)"/>
<polygon points="2262.8,2215.0 2388.0,2190.0 2265.2,2155.0" fill="url(#apu)" />
<line x1="2179.0" y1="2286.0" x2="2254.0" y2="2274.0" stroke="url(#apu)" stroke-width="28.0" stroke-linecap="round"/>
<ellipse cx="2254.0" cy="2274.0" rx="8.0" ry="29.5" transform="rotate(-11.3 2254.0 2274.0)" fill="#5a4a78"/>
<polygon points="2259.8,2302.9 2359.0,2253.0 2248.2,2245.1" fill="url(#apu)" />
<line x1="2193.0" y1="2394.0" x2="2261.0" y2="2370.0" stroke="url(#apu)" stroke-width="28.0" stroke-linecap="round"/>
<ellipse cx="2261.0" cy="2370.0" rx="12.0" ry="30.0" transform="rotate(-18.2 2261.0 2370.0)" fill="#5a4a78"/>
<polygon points="2270.4,2398.5 2352.0,2340.0 2251.6,2341.5" fill="url(#apu)" />
<line x1="2214.0" y1="2495.0" x2="2261.0" y2="2463.0" stroke="url(#apu)" stroke-width="28.0" stroke-linecap="round"/>
<ellipse cx="2261.0" cy="2463.0" rx="15.0" ry="27.5" transform="rotate(-37.5 2261.0 2463.0)" fill="#5a4a78"/>
<polygon points="2277.7,2484.8 2321.0,2417.0 2244.3,2441.2" fill="url(#apu)" />
<line x1="1500.0" y1="2478.0" x2="1528.0" y2="2440.0" stroke="url(#abk)" stroke-width="38.0" stroke-linecap="round"/>
<ellipse cx="1528.0" cy="2440.0" rx="24.0" ry="28.0" transform="rotate(-51.6 1528.0 2440.0)" fill="url(#abk)"/>
<polygon points="1550.0,2457.4 1566.0,2392.0 1506.0,2422.6" fill="url(#abk)" />
<line x1="1870.0" y1="2530.0" x2="1887.0" y2="2500.0" stroke="url(#abk)" stroke-width="38.0" stroke-linecap="round"/>
<ellipse cx="1887.0" cy="2500.0" rx="24.0" ry="29.0" transform="rotate(-58.2 1887.0 2500.0)" fill="url(#abk)"/>
<polygon points="1911.7,2515.3 1913.0,2458.0 1862.3,2484.7" fill="url(#abk)" />
<line x1="2250.0" y1="2586.0" x2="2264.0" y2="2545.0" stroke="url(#abk)" stroke-width="38.0" stroke-linecap="round"/>
<ellipse cx="2264.0" cy="2545.0" rx="26.0" ry="29.0" transform="rotate(-66.3 2264.0 2545.0)" fill="url(#abk)"/>
<polygon points="2290.5,2556.7 2286.0,2495.0 2237.5,2533.3" fill="url(#abk)" />
<text transform="translate(1176.11 1551.50) scale(0.792 1)" font-size="84.59" font-weight="bold" fill="#231f20" stroke="#231f20" stroke-width="3.0" stroke-linejoin="miter">F</text>
<line x1="1238.0" y1="1259.4" x2="3054.0" y2="1259.4" stroke="#636466" stroke-width="2.7"/>
<line x1="2117.3" y1="149.0" x2="2117.3" y2="1268.0" stroke="#636466" stroke-width="2.7"/>
<line x1="1238.0" y1="1259.4" x2="1238.0" y2="1238.4" stroke="#636466" stroke-width="2.7"/>
<text x="1224.22" y="1324.60" font-size="57.30" fill="#231f20" font-weight="normal" font-style="normal" >0</text>
<line x1="1531.1" y1="1259.4" x2="1531.1" y2="1238.4" stroke="#636466" stroke-width="2.7"/>
<text x="1502.69" y="1324.60" font-size="57.30" fill="#231f20" font-weight="normal" font-style="normal" textLength="59.27" lengthAdjust="spacingAndGlyphs" >30</text>
<line x1="1824.2" y1="1259.4" x2="1824.2" y2="1238.4" stroke="#636466" stroke-width="2.7"/>
<text x="1795.45" y="1324.60" font-size="57.30" fill="#231f20" font-weight="normal" font-style="normal" textLength="59.27" lengthAdjust="spacingAndGlyphs" >60</text>
<line x1="2117.3" y1="1259.4" x2="2117.3" y2="1238.4" stroke="#636466" stroke-width="2.7"/>
<line x1="2410.4" y1="1259.4" x2="2410.4" y2="1238.4" stroke="#636466" stroke-width="2.7"/>
<text x="2366.16" y="1324.60" font-size="57.30" fill="#231f20" font-weight="normal" font-style="normal" textLength="88.91" lengthAdjust="spacingAndGlyphs" >120</text>
<line x1="2703.5" y1="1259.4" x2="2703.5" y2="1238.4" stroke="#636466" stroke-width="2.7"/>
<text x="2659.26" y="1324.60" font-size="57.30" fill="#231f20" font-weight="normal" font-style="normal" textLength="88.91" lengthAdjust="spacingAndGlyphs" >150</text>
<line x1="2996.6" y1="1259.4" x2="2996.6" y2="1238.4" stroke="#636466" stroke-width="2.7"/>
<text x="2952.36" y="1324.60" font-size="57.30" fill="#231f20" font-weight="normal" font-style="normal" textLength="88.91" lengthAdjust="spacingAndGlyphs" >180</text>
<line x1="2117.3" y1="994.9" x2="2138.8" y2="994.9" stroke="#636466" stroke-width="2.7"/>
<text x="2041.46" y="1014.30" font-size="57.30" fill="#231f20" font-weight="normal" font-style="normal" textLength="59.27" lengthAdjust="spacingAndGlyphs" >25</text>
<line x1="2117.3" y1="730.4" x2="2138.8" y2="730.4" stroke="#636466" stroke-width="2.7"/>
<text x="2041.31" y="749.80" font-size="57.30" fill="#231f20" font-weight="normal" font-style="normal" textLength="59.27" lengthAdjust="spacingAndGlyphs" >50</text>
<line x1="2117.3" y1="465.9" x2="2138.8" y2="465.9" stroke="#636466" stroke-width="2.7"/>
<text x="2041.46" y="485.30" font-size="57.30" fill="#231f20" font-weight="normal" font-style="normal" textLength="59.27" lengthAdjust="spacingAndGlyphs" >75</text>
<line x1="2117.3" y1="201.4" x2="2138.8" y2="201.4" stroke="#636466" stroke-width="2.7"/>
<text x="2011.67" y="220.80" font-size="57.30" fill="#231f20" font-weight="normal" font-style="normal" textLength="88.91" lengthAdjust="spacingAndGlyphs" >100</text>
<path d="M1335.7 159.1 V243.7 M1316.7 159.1 H1354.7 M1316.7 243.7 H1354.7" stroke="#231f20" stroke-width="5.0" fill="none"/>
<circle cx="1335.7" cy="201.4" r="11.5" fill="#231f20"/>
<path d="M1433.4 289.2 V382.3 M1414.4 289.2 H1452.4 M1414.4 382.3 H1452.4" stroke="#231f20" stroke-width="5.0" fill="none"/>
<circle cx="1433.4" cy="335.8" r="11.5" fill="#231f20"/>
<path d="M1531.1 431.0 V509.3 M1512.1 431.0 H1550.1 M1512.1 509.3 H1550.1" stroke="#231f20" stroke-width="5.0" fill="none"/>
<circle cx="1531.1" cy="470.1" r="11.5" fill="#231f20"/>
<path d="M1628.8 563.2 V641.5 M1609.8 563.2 H1647.8 M1609.8 641.5 H1647.8" stroke="#231f20" stroke-width="5.0" fill="none"/>
<circle cx="1628.8" cy="602.4" r="11.5" fill="#231f20"/>
<path d="M1726.5 714.5 V784.4 M1707.5 714.5 H1745.5 M1707.5 784.4 H1745.5" stroke="#231f20" stroke-width="5.0" fill="none"/>
<circle cx="1726.5" cy="749.4" r="11.5" fill="#231f20"/>
<path d="M1824.2 943.1 V985.4 M1805.2 943.1 H1843.2 M1805.2 985.4 H1843.2" stroke="#231f20" stroke-width="5.0" fill="none"/>
<circle cx="1824.2" cy="964.2" r="11.5" fill="#231f20"/>
<path d="M1873.0 1010.8 V1051.0 M1854.0 1010.8 H1892.0 M1854.0 1051.0 H1892.0" stroke="#231f20" stroke-width="5.0" fill="none"/>
<circle cx="1873.0" cy="1030.9" r="11.5" fill="#231f20"/>
<path d="M1921.9 1098.6 V1128.2 M1902.9 1098.6 H1940.9 M1902.9 1128.2 H1940.9" stroke="#231f20" stroke-width="5.0" fill="none"/>
<circle cx="1921.9" cy="1113.4" r="11.5" fill="#231f20"/>
<path d="M1970.8 1168.4 V1187.5 M1951.8 1168.4 H1989.8 M1951.8 1187.5 H1989.8" stroke="#231f20" stroke-width="5.0" fill="none"/>
<circle cx="1970.8" cy="1177.9" r="11.5" fill="#231f20"/>
<path d="M2019.6 1215.0 V1227.7 M2000.6 1215.0 H2038.6 M2000.6 1227.7 H2038.6" stroke="#231f20" stroke-width="5.0" fill="none"/>
<circle cx="2019.6" cy="1221.3" r="11.5" fill="#231f20"/>
<circle cx="2068.4" cy="1244.6" r="11.5" fill="#231f20"/>
<circle cx="2117.3" cy="1257.3" r="11.5" fill="#231f20"/>
<circle cx="2166.2" cy="1242.5" r="11.5" fill="#231f20"/>
<path d="M2215.0 1212.8 V1223.4 M2196.0 1212.8 H2234.0 M2196.0 1223.4 H2234.0" stroke="#231f20" stroke-width="5.0" fill="none"/>
<circle cx="2215.0" cy="1218.1" r="11.5" fill="#231f20"/>
<path d="M2263.8 1156.8 V1173.7 M2244.8 1156.8 H2282.8 M2244.8 1173.7 H2282.8" stroke="#231f20" stroke-width="5.0" fill="none"/>
<circle cx="2263.8" cy="1165.2" r="11.5" fill="#231f20"/>
<path d="M2312.7 1092.2 V1117.6 M2293.7 1092.2 H2331.7 M2293.7 1117.6 H2331.7" stroke="#231f20" stroke-width="5.0" fill="none"/>
<circle cx="2312.7" cy="1104.9" r="11.5" fill="#231f20"/>
<path d="M2361.6 989.6 V1019.2 M2342.6 989.6 H2380.6 M2342.6 1019.2 H2380.6" stroke="#231f20" stroke-width="5.0" fill="none"/>
<circle cx="2361.6" cy="1004.4" r="11.5" fill="#231f20"/>
<path d="M2410.4 920.8 V954.7 M2391.4 920.8 H2429.4 M2391.4 954.7 H2429.4" stroke="#231f20" stroke-width="5.0" fill="none"/>
<circle cx="2410.4" cy="937.8" r="11.5" fill="#231f20"/>
<path d="M2508.1 702.9 V770.6 M2489.1 702.9 H2527.1 M2489.1 770.6 H2527.1" stroke="#231f20" stroke-width="5.0" fill="none"/>
<circle cx="2508.1" cy="736.7" r="11.5" fill="#231f20"/>
<path d="M2605.8 565.4 V641.5 M2586.8 565.4 H2624.8 M2586.8 641.5 H2624.8" stroke="#231f20" stroke-width="5.0" fill="none"/>
<circle cx="2605.8" cy="603.4" r="11.5" fill="#231f20"/>
<path d="M2703.5 431.0 V509.3 M2684.5 431.0 H2722.5 M2684.5 509.3 H2722.5" stroke="#231f20" stroke-width="5.0" fill="none"/>
<circle cx="2703.5" cy="470.1" r="11.5" fill="#231f20"/>
<path d="M2801.2 289.2 V382.3 M2782.2 289.2 H2820.2 M2782.2 382.3 H2820.2" stroke="#231f20" stroke-width="5.0" fill="none"/>
<circle cx="2801.2" cy="335.8" r="11.5" fill="#231f20"/>
<path d="M2898.9 159.1 V243.7 M2879.9 159.1 H2917.9 M2879.9 243.7 H2917.9" stroke="#231f20" stroke-width="5.0" fill="none"/>
<circle cx="2898.9" cy="201.4" r="11.5" fill="#231f20"/>
<path d="M2996.6 159.1 V243.7 M2977.6 159.1 H3015.6 M2977.6 243.7 H3015.6" stroke="#231f20" stroke-width="5.0" fill="none"/>
<circle cx="2996.6" cy="201.4" r="11.5" fill="#231f20"/>
<path d="M1433.4 798.1 V861.6 M1414.4 798.1 H1452.4 M1414.4 861.6 H1452.4" stroke="#ed1c24" stroke-width="5.0" fill="none"/>
<circle cx="1433.4" cy="829.9" r="11.5" fill="#ed1c24"/>
<path d="M1531.1 990.7 V1026.6 M1512.1 990.7 H1550.1 M1512.1 1026.6 H1550.1" stroke="#ed1c24" stroke-width="5.0" fill="none"/>
<circle cx="1531.1" cy="1008.7" r="11.5" fill="#ed1c24"/>
<path d="M1628.8 1103.9 V1129.3 M1609.8 1103.9 H1647.8 M1609.8 1129.3 H1647.8" stroke="#ed1c24" stroke-width="5.0" fill="none"/>
<circle cx="1628.8" cy="1116.6" r="11.5" fill="#ed1c24"/>
<path d="M1726.5 1193.8 V1206.5 M1707.5 1193.8 H1745.5 M1707.5 1206.5 H1745.5" stroke="#ed1c24" stroke-width="5.0" fill="none"/>
<circle cx="1726.5" cy="1200.2" r="11.5" fill="#ed1c24"/>
<path d="M1824.2 1219.2 V1227.7 M1805.2 1219.2 H1843.2 M1805.2 1227.7 H1843.2" stroke="#ed1c24" stroke-width="5.0" fill="none"/>
<circle cx="1824.2" cy="1223.4" r="11.5" fill="#ed1c24"/>
<path d="M1873.0 1219.2 V1227.7 M1854.0 1219.2 H1892.0 M1854.0 1227.7 H1892.0" stroke="#ed1c24" stroke-width="5.0" fill="none"/>
<circle cx="1873.0" cy="1223.4" r="11.5" fill="#ed1c24"/>
<path d="M1921.9 1159.9 V1179.0 M1902.9 1159.9 H1940.9 M1902.9 1179.0 H1940.9" stroke="#ed1c24" stroke-width="5.0" fill="none"/>
<circle cx="1921.9" cy="1169.5" r="11.5" fill="#ed1c24"/>
<path d="M1970.8 1106.0 V1127.2 M1951.8 1106.0 H1989.8 M1951.8 1127.2 H1989.8" stroke="#ed1c24" stroke-width="5.0" fill="none"/>
<circle cx="1970.8" cy="1116.6" r="11.5" fill="#ed1c24"/>
<path d="M2019.6 1055.2 V1086.9 M2000.6 1055.2 H2038.6 M2000.6 1086.9 H2038.6" stroke="#ed1c24" stroke-width="5.0" fill="none"/>
<circle cx="2019.6" cy="1071.1" r="11.5" fill="#ed1c24"/>
<path d="M2068.4 993.8 V1036.2 M2049.4 993.8 H2087.4 M2049.4 1036.2 H2087.4" stroke="#ed1c24" stroke-width="5.0" fill="none"/>
<circle cx="2068.4" cy="1015.0" r="11.5" fill="#ed1c24"/>
<path d="M2117.3 895.4 V942.0 M2098.3 895.4 H2136.3 M2098.3 942.0 H2136.3" stroke="#ed1c24" stroke-width="5.0" fill="none"/>
<circle cx="2117.3" cy="918.7" r="11.5" fill="#ed1c24"/>
<path d="M2166.2 797.1 V860.5 M2147.2 797.1 H2185.2 M2147.2 860.5 H2185.2" stroke="#ed1c24" stroke-width="5.0" fill="none"/>
<circle cx="2166.2" cy="828.8" r="11.5" fill="#ed1c24"/>
<path d="M1433.4 252.2 V330.5 M1414.4 252.2 H1452.4 M1414.4 330.5 H1452.4" stroke="#6dcbdd" stroke-width="5.0" fill="none"/>
<circle cx="1433.4" cy="291.3" r="11.5" fill="#6dcbdd"/>
<path d="M1531.1 207.7 V288.2 M1512.1 207.7 H1550.1 M1512.1 288.2 H1550.1" stroke="#6dcbdd" stroke-width="5.0" fill="none"/>
<circle cx="1531.1" cy="248.0" r="11.5" fill="#6dcbdd"/>
<path d="M1628.8 252.2 V330.5 M1609.8 252.2 H1647.8 M1609.8 330.5 H1647.8" stroke="#6dcbdd" stroke-width="5.0" fill="none"/>
<circle cx="1628.8" cy="291.3" r="11.5" fill="#6dcbdd"/>
<path d="M1726.5 334.7 V429.9 M1707.5 334.7 H1745.5 M1707.5 429.9 H1745.5" stroke="#6dcbdd" stroke-width="5.0" fill="none"/>
<circle cx="1726.5" cy="382.3" r="11.5" fill="#6dcbdd"/>
<path d="M1824.2 471.2 V555.8 M1805.2 471.2 H1843.2 M1805.2 555.8 H1843.2" stroke="#6dcbdd" stroke-width="5.0" fill="none"/>
<circle cx="1824.2" cy="513.5" r="11.5" fill="#6dcbdd"/>
<path d="M1873.0 518.8 V603.4 M1854.0 518.8 H1892.0 M1854.0 603.4 H1892.0" stroke="#6dcbdd" stroke-width="5.0" fill="none"/>
<circle cx="1873.0" cy="561.1" r="11.5" fill="#6dcbdd"/>
<path d="M1921.9 635.2 V715.6 M1902.9 635.2 H1940.9 M1902.9 715.6 H1940.9" stroke="#6dcbdd" stroke-width="5.0" fill="none"/>
<circle cx="1921.9" cy="675.4" r="11.5" fill="#6dcbdd"/>
<path d="M1970.8 707.1 V774.8 M1951.8 707.1 H1989.8 M1951.8 774.8 H1989.8" stroke="#6dcbdd" stroke-width="5.0" fill="none"/>
<circle cx="1970.8" cy="741.0" r="11.5" fill="#6dcbdd"/>
<path d="M2019.6 794.9 V858.4 M2000.6 794.9 H2038.6 M2000.6 858.4 H2038.6" stroke="#6dcbdd" stroke-width="5.0" fill="none"/>
<circle cx="2019.6" cy="826.7" r="11.5" fill="#6dcbdd"/>
<path d="M2068.4 883.8 V936.7 M2049.4 883.8 H2087.4 M2049.4 936.7 H2087.4" stroke="#6dcbdd" stroke-width="5.0" fill="none"/>
<circle cx="2068.4" cy="910.3" r="11.5" fill="#6dcbdd"/>
<path d="M2117.3 981.1 V1019.2 M2098.3 981.1 H2136.3 M2098.3 1019.2 H2136.3" stroke="#6dcbdd" stroke-width="5.0" fill="none"/>
<circle cx="2117.3" cy="1000.2" r="11.5" fill="#6dcbdd"/>
<path d="M2166.2 1064.7 V1092.2 M2147.2 1064.7 H2185.2 M2147.2 1092.2 H2185.2" stroke="#6dcbdd" stroke-width="5.0" fill="none"/>
<circle cx="2166.2" cy="1078.5" r="11.5" fill="#6dcbdd"/>
<path d="M2215.0 1129.3 V1146.2 M2196.0 1129.3 H2234.0 M2196.0 1146.2 H2234.0" stroke="#6dcbdd" stroke-width="5.0" fill="none"/>
<circle cx="2215.0" cy="1137.7" r="11.5" fill="#6dcbdd"/>
<path d="M2263.8 1173.7 V1186.4 M2244.8 1173.7 H2282.8 M2244.8 1186.4 H2282.8" stroke="#6dcbdd" stroke-width="5.0" fill="none"/>
<circle cx="2263.8" cy="1180.1" r="11.5" fill="#6dcbdd"/>
<path d="M2312.7 1197.0 V1207.6 M2293.7 1197.0 H2331.7 M2293.7 1207.6 H2331.7" stroke="#6dcbdd" stroke-width="5.0" fill="none"/>
<circle cx="2312.7" cy="1202.3" r="11.5" fill="#6dcbdd"/>
<path d="M2361.6 1217.1 V1225.5 M2342.6 1217.1 H2380.6 M2342.6 1225.5 H2380.6" stroke="#6dcbdd" stroke-width="5.0" fill="none"/>
<circle cx="2361.6" cy="1221.3" r="11.5" fill="#6dcbdd"/>
<path d="M2410.4 1197.0 V1207.6 M2391.4 1197.0 H2429.4 M2391.4 1207.6 H2429.4" stroke="#6dcbdd" stroke-width="5.0" fill="none"/>
<circle cx="2410.4" cy="1202.3" r="11.5" fill="#6dcbdd"/>
<path d="M2508.1 1157.8 V1174.8 M2489.1 1157.8 H2527.1 M2489.1 1174.8 H2527.1" stroke="#6dcbdd" stroke-width="5.0" fill="none"/>
<circle cx="2508.1" cy="1166.3" r="11.5" fill="#6dcbdd"/>
<path d="M2605.8 1079.5 V1104.9 M2586.8 1079.5 H2624.8 M2586.8 1104.9 H2624.8" stroke="#6dcbdd" stroke-width="5.0" fill="none"/>
<circle cx="2605.8" cy="1092.2" r="11.5" fill="#6dcbdd"/>
<path d="M2703.5 906.0 V961.0 M2684.5 906.0 H2722.5 M2684.5 961.0 H2722.5" stroke="#6dcbdd" stroke-width="5.0" fill="none"/>
<circle cx="2703.5" cy="933.5" r="11.5" fill="#6dcbdd"/>
<path d="M2801.2 752.6 V814.0 M2782.2 752.6 H2820.2 M2782.2 814.0 H2820.2" stroke="#6dcbdd" stroke-width="5.0" fill="none"/>
<circle cx="2801.2" cy="783.3" r="11.5" fill="#6dcbdd"/>
<path d="M1628.8 207.7 V288.2 M1609.8 207.7 H1647.8 M1609.8 288.2 H1647.8" stroke="#3953a4" stroke-width="5.0" fill="none"/>
<circle cx="1628.8" cy="248.0" r="11.5" fill="#3953a4"/>
<path d="M1726.5 224.7 V324.1 M1707.5 224.7 H1745.5 M1707.5 324.1 H1745.5" stroke="#3953a4" stroke-width="5.0" fill="none"/>
<circle cx="1726.5" cy="274.4" r="11.5" fill="#3953a4"/>
<path d="M1824.2 471.2 V555.8 M1805.2 471.2 H1843.2 M1805.2 555.8 H1843.2" stroke="#3953a4" stroke-width="5.0" fill="none"/>
<circle cx="1824.2" cy="513.5" r="11.5" fill="#3953a4"/>
<path d="M1873.0 428.9 V513.5 M1854.0 428.9 H1892.0 M1854.0 513.5 H1892.0" stroke="#3953a4" stroke-width="5.0" fill="none"/>
<circle cx="1873.0" cy="471.2" r="11.5" fill="#3953a4"/>
<path d="M1921.9 608.7 V689.1 M1902.9 608.7 H1940.9 M1902.9 689.1 H1940.9" stroke="#3953a4" stroke-width="5.0" fill="none"/>
<circle cx="1921.9" cy="648.9" r="11.5" fill="#3953a4"/>
<path d="M1970.8 706.1 V771.7 M1951.8 706.1 H1989.8 M1951.8 771.7 H1989.8" stroke="#3953a4" stroke-width="5.0" fill="none"/>
<circle cx="1970.8" cy="738.9" r="11.5" fill="#3953a4"/>
<path d="M2019.6 777.0 V842.5 M2000.6 777.0 H2038.6 M2000.6 842.5 H2038.6" stroke="#3953a4" stroke-width="5.0" fill="none"/>
<circle cx="2019.6" cy="809.8" r="11.5" fill="#3953a4"/>
<path d="M2068.4 892.3 V945.2 M2049.4 892.3 H2087.4 M2049.4 945.2 H2087.4" stroke="#3953a4" stroke-width="5.0" fill="none"/>
<circle cx="2068.4" cy="918.7" r="11.5" fill="#3953a4"/>
<path d="M2117.3 988.6 V1026.6 M2098.3 988.6 H2136.3 M2098.3 1026.6 H2136.3" stroke="#3953a4" stroke-width="5.0" fill="none"/>
<circle cx="2117.3" cy="1007.6" r="11.5" fill="#3953a4"/>
<path d="M2166.2 1106.0 V1122.9 M2147.2 1106.0 H2185.2 M2147.2 1122.9 H2185.2" stroke="#3953a4" stroke-width="5.0" fill="none"/>
<circle cx="2166.2" cy="1114.5" r="11.5" fill="#3953a4"/>
<path d="M2215.0 1135.6 V1150.4 M2196.0 1135.6 H2234.0 M2196.0 1150.4 H2234.0" stroke="#3953a4" stroke-width="5.0" fill="none"/>
<circle cx="2215.0" cy="1143.0" r="11.5" fill="#3953a4"/>
<path d="M2263.8 1181.1 V1193.8 M2244.8 1181.1 H2282.8 M2244.8 1193.8 H2282.8" stroke="#3953a4" stroke-width="5.0" fill="none"/>
<circle cx="2263.8" cy="1187.5" r="11.5" fill="#3953a4"/>
<path d="M2312.7 1209.7 V1218.1 M2293.7 1209.7 H2331.7 M2293.7 1218.1 H2331.7" stroke="#3953a4" stroke-width="5.0" fill="none"/>
<circle cx="2312.7" cy="1213.9" r="11.5" fill="#3953a4"/>
<path d="M2361.6 1238.2 V1244.6 M2342.6 1238.2 H2380.6 M2342.6 1244.6 H2380.6" stroke="#3953a4" stroke-width="5.0" fill="none"/>
<circle cx="2361.6" cy="1241.4" r="11.5" fill="#3953a4"/>
<path d="M2410.4 1219.2 V1227.7 M2391.4 1219.2 H2429.4 M2391.4 1227.7 H2429.4" stroke="#3953a4" stroke-width="5.0" fill="none"/>
<circle cx="2410.4" cy="1223.4" r="11.5" fill="#3953a4"/>
<path d="M2508.1 1199.1 V1209.7 M2489.1 1199.1 H2527.1 M2489.1 1209.7 H2527.1" stroke="#3953a4" stroke-width="5.0" fill="none"/>
<circle cx="2508.1" cy="1204.4" r="11.5" fill="#3953a4"/>
<path d="M2605.8 1082.7 V1110.2 M2586.8 1082.7 H2624.8 M2586.8 1110.2 H2624.8" stroke="#3953a4" stroke-width="5.0" fill="none"/>
<circle cx="2605.8" cy="1096.5" r="11.5" fill="#3953a4"/>
<path d="M2703.5 939.9 V986.4 M2684.5 939.9 H2722.5 M2684.5 986.4 H2722.5" stroke="#3953a4" stroke-width="5.0" fill="none"/>
<circle cx="2703.5" cy="963.2" r="11.5" fill="#3953a4"/>
<path d="M2801.2 798.1 V861.6 M2782.2 798.1 H2820.2 M2782.2 861.6 H2820.2" stroke="#3953a4" stroke-width="5.0" fill="none"/>
<circle cx="2801.2" cy="829.9" r="11.5" fill="#3953a4"/>
<polyline points="1233.1,201.5 1240.4,201.4 1247.6,201.7 1254.9,202.4 1262.2,203.4 1269.4,204.7 1276.7,206.5 1284.0,208.5 1291.2,210.9 1298.5,213.7 1305.8,216.8 1313.0,220.3 1320.3,224.1 1327.6,228.3 1334.8,232.8 1342.1,237.6 1349.4,242.7 1356.6,248.2 1363.9,254.0 1371.2,260.2 1378.4,266.6 1385.7,273.4 1393.0,280.4 1400.2,287.8 1407.5,295.5 1414.8,303.4 1422.0,311.7 1429.3,320.2 1436.6,329.0 1443.8,338.1 1451.1,347.5 1458.4,357.1 1465.6,366.9 1472.9,377.0 1480.2,387.4 1487.4,397.9 1494.7,408.7 1502.0,419.7 1509.2,431.0 1516.5,442.4 1523.8,454.0 1531.0,465.8 1538.3,477.8 1545.6,489.9 1552.8,502.2 1560.1,514.7 1567.4,527.3 1574.6,540.1 1581.9,552.9 1589.2,565.9 1596.4,579.0 1603.7,592.3 1611.0,605.6 1618.2,618.9 1625.5,632.4 1632.8,645.9 1640.0,659.5 1647.3,673.2 1654.6,686.8 1661.8,700.5 1669.1,714.2 1676.4,728.0 1683.6,741.7 1690.9,755.4 1698.2,769.1 1705.4,782.8 1712.7,796.5 1720.0,810.1 1727.2,823.6 1734.5,837.1 1741.8,850.5 1749.0,863.9 1756.3,877.1 1763.6,890.2 1770.8,903.3 1778.1,916.2 1785.4,929.0 1792.6,941.7 1799.9,954.2 1807.2,966.5 1814.4,978.8 1821.7,990.8 1829.0,1002.7 1836.2,1014.3 1843.5,1025.8 1850.8,1037.1 1858.0,1048.2 1865.3,1059.1 1872.6,1069.7 1879.8,1080.1 1887.1,1090.3 1894.4,1100.3 1901.6,1110.0 1908.9,1119.4 1916.2,1128.6 1923.4,1137.5 1930.7,1146.1 1938.0,1154.5 1945.2,1162.5 1952.5,1170.3 1959.8,1177.8 1967.0,1185.0 1974.3,1191.8 1981.6,1198.4 1988.8,1204.6 1996.1,1210.6 2003.4,1216.2 2010.6,1221.4 2017.9,1226.4 2025.2,1231.0 2032.4,1235.3 2039.7,1239.2 2047.0,1242.8 2054.2,1246.0 2061.5,1248.9 2068.8,1251.5 2076.0,1253.7 2083.3,1255.5 2090.6,1257.0 2097.8,1258.1 2105.1,1258.9 2112.4,1259.3 2119.6,1259.4 2126.9,1259.1 2134.2,1258.4 2141.4,1257.4 2148.7,1256.1 2156.0,1254.4 2163.2,1252.3 2170.5,1249.9 2177.8,1247.1 2185.0,1244.0 2192.3,1240.5 2199.6,1236.7 2206.8,1232.6 2214.1,1228.1 2221.4,1223.3 2228.6,1218.1 2235.9,1212.6 2243.1,1206.8 2250.4,1200.7 2257.7,1194.2 2264.9,1187.5 2272.2,1180.4 2279.5,1173.0 2286.7,1165.4 2294.0,1157.4 2301.3,1149.2 2308.5,1140.6 2315.8,1131.8 2323.1,1122.8 2330.3,1113.4 2337.6,1103.8 2344.9,1094.0 2352.1,1083.9 2359.4,1073.5 2366.7,1063.0 2373.9,1052.2 2381.2,1041.2 2388.5,1029.9 2395.7,1018.5 2403.0,1006.9 2410.3,995.1 2417.5,983.1 2424.8,971.0 2432.1,958.7 2439.3,946.2 2446.6,933.6 2453.9,920.8 2461.1,908.0 2468.4,895.0 2475.7,881.9 2482.9,868.7 2490.2,855.4 2497.5,842.0 2504.7,828.5 2512.0,815.0 2519.3,801.4 2526.5,787.8 2533.8,774.1 2541.1,760.4 2548.3,746.7 2555.6,732.9 2562.9,719.2 2570.1,705.5 2577.4,691.8 2584.7,678.1 2591.9,664.4 2599.2,650.8 2606.5,637.3 2613.7,623.8 2621.0,610.4 2628.3,597.1 2635.5,583.8 2642.8,570.7 2650.1,557.6 2657.3,544.7 2664.6,531.9 2671.9,519.3 2679.1,506.7 2686.4,494.4 2693.7,482.2 2700.9,470.1 2708.2,458.2 2715.5,446.6 2722.7,435.1 2730.0,423.8 2737.3,412.7 2744.5,401.8 2751.8,391.2 2759.1,380.7 2766.3,370.6 2773.6,360.6 2780.9,350.9 2788.1,341.5 2795.4,332.3 2802.7,323.4 2809.9,314.8 2817.2,306.4 2824.5,298.3 2831.7,290.6 2839.0,283.1 2846.3,275.9 2853.5,269.0 2860.8,262.5 2868.1,256.2 2875.3,250.3 2882.6,244.7 2889.9,239.4 2897.1,234.5 2904.4,229.8 2911.7,225.6 2918.9,221.6 2926.2,218.0 2933.5,214.8 2940.7,211.9 2948.0,209.4 2955.3,207.2 2962.5,205.3 2969.8,203.8 2977.1,202.7" fill="none" stroke="#231f20" stroke-width="10.0" stroke-linejoin="round"/>
<polyline points="1235.1,511.9 1242.3,523.4 1249.6,535.0 1256.8,546.7 1264.1,558.5 1271.3,570.5 1278.5,582.6 1285.8,594.7 1293.0,607.0 1300.3,619.3 1307.5,631.8 1314.8,644.3 1322.0,656.8 1329.3,669.4 1336.5,682.0 1343.8,694.7 1351.0,707.4 1358.3,720.1 1365.5,732.8 1372.7,745.6 1380.0,758.3 1387.2,771.0 1394.5,783.6 1401.7,796.3 1409.0,808.9 1416.2,821.4 1423.5,833.9 1430.7,846.3 1438.0,858.6 1445.2,870.9 1452.5,883.0 1459.7,895.1 1466.9,907.0 1474.2,918.9 1481.4,930.6 1488.7,942.1 1495.9,953.6 1503.2,964.8 1510.4,976.0 1517.7,986.9 1524.9,997.7 1532.2,1008.3 1539.4,1018.8 1546.7,1029.0 1553.9,1039.0 1561.1,1048.9 1568.4,1058.5 1575.6,1067.9 1582.9,1077.1 1590.1,1086.0 1597.4,1094.7 1604.6,1103.2 1611.9,1111.4 1619.1,1119.3 1626.4,1127.0 1633.6,1134.5 1640.8,1141.6 1648.1,1148.5 1655.3,1155.1 1662.6,1161.5 1669.8,1167.5 1677.1,1173.3 1684.3,1178.7 1691.6,1183.9 1698.8,1188.7 1706.1,1193.3 1713.3,1197.5 1720.6,1201.4 1727.8,1205.0 1735.0,1208.3 1742.3,1211.3 1749.5,1213.9 1756.8,1216.3 1764.0,1218.3 1771.3,1219.9 1778.5,1221.3 1785.8,1222.3 1793.0,1223.0 1800.3,1223.4 1807.5,1223.4 1814.8,1223.1 1822.0,1222.5 1829.2,1221.5 1836.5,1220.3 1843.7,1218.6 1851.0,1216.7 1858.2,1214.5 1865.5,1211.9 1872.7,1209.0 1880.0,1205.7 1887.2,1202.2 1894.5,1198.3 1901.7,1194.2 1909.0,1189.7 1916.2,1184.9 1923.4,1179.8 1930.7,1174.4 1937.9,1168.8 1945.2,1162.8 1952.4,1156.5 1959.7,1150.0 1966.9,1143.1 1974.2,1136.0 1981.4,1128.6 1988.7,1121.0 1995.9,1113.1 2003.2,1104.9 2010.4,1096.5 2017.6,1087.9 2024.9,1079.0 2032.1,1069.9 2039.4,1060.5 2046.6,1050.9 2053.9,1041.1 2061.1,1031.2 2068.4,1021.0 2075.6,1010.6 2082.9,1000.0 2090.1,989.3 2097.4,978.3 2104.6,967.2 2111.8,956.0 2119.1,944.6 2126.3,933.0 2133.6,921.4 2140.8,909.6 2148.1,897.6 2155.3,885.6 2162.6,873.5 2169.8,861.3 2177.1,848.9 2184.3,836.5 2191.6,824.1 2198.8,811.5 2206.0,799.0 2213.3,786.3 2220.5,773.7 2227.8,761.0 2235.0,748.3 2242.3,735.6 2249.5,722.8 2256.8,710.1 2264.0,697.4 2271.3,684.7 2278.5,672.1 2285.8,659.5 2293.0,646.9 2300.2,634.4 2307.5,622.0 2314.7,609.6 2322.0,597.4 2329.2,585.2 2336.5,573.1 2343.7,561.1 2351.0,549.2 2358.2,537.5 2365.5,525.9 2372.7,514.4 2380.0,503.0 2387.2,491.9 2394.4,480.8 2401.7,470.0 2408.9,459.3 2416.2,448.8 2423.4,438.5 2430.7,428.4 2437.9,418.5 2445.2,408.8 2452.4,399.3 2459.7,390.1 2466.9,381.1 2474.1,372.3 2481.4,363.7 2488.6,355.4 2495.9,347.4 2503.1,339.6 2510.4,332.1 2517.6,324.8 2524.9,317.8 2532.1,311.1 2539.4,304.7 2546.6,298.5 2553.9,292.7 2561.1,287.1 2568.3,281.9 2575.6,276.9 2582.8,272.3 2590.1,267.9 2597.3,263.9 2604.6,260.2 2611.8,256.8 2619.1,253.7 2626.3,250.9 2633.6,248.5 2640.8,246.4 2648.1,244.6 2655.3,243.1 2662.5,242.0 2669.8,241.2 2677.0,240.7 2684.3,240.5 2691.5,240.7 2698.8,241.2 2706.0,242.1 2713.3,243.2 2720.5,244.7 2727.8,246.6 2735.0,248.7 2742.3,251.2 2749.5,254.0 2756.7,257.1 2764.0,260.5 2771.2,264.2 2778.5,268.3 2785.7,272.7 2793.0,277.4 2800.2,282.3 2807.5,287.6 2814.7,293.2 2822.0,299.1 2829.2,305.2 2836.5,311.7 2843.7,318.4 2850.9,325.4 2858.2,332.7 2865.4,340.3 2872.7,348.1 2879.9,356.2 2887.2,364.5 2894.4,373.1 2901.7,381.9 2908.9,390.9 2916.2,400.2 2923.4,409.7 2930.7,419.4 2937.9,429.3 2945.1,439.4 2952.4,449.8 2959.6,460.3 2966.9,471.0 2974.1,481.8" fill="none" stroke="#ed1c24" stroke-width="10.0" stroke-linejoin="round"/>
<polyline points="1236.0,502.5 1243.3,491.8 1250.5,481.2 1257.8,470.8 1265.0,460.5 1272.3,450.5 1279.5,440.6 1286.7,430.9 1294.0,421.5 1301.2,412.2 1308.5,403.1 1315.7,394.3 1323.0,385.7 1330.2,377.3 1337.4,369.2 1344.7,361.3 1351.9,353.6 1359.2,346.2 1366.4,339.0 1373.6,332.2 1380.9,325.5 1388.1,319.2 1395.4,313.1 1402.6,307.3 1409.9,301.8 1417.1,296.6 1424.3,291.7 1431.6,287.0 1438.8,282.7 1446.1,278.7 1453.3,274.9 1460.5,271.5 1467.8,268.4 1475.0,265.5 1482.3,263.0 1489.5,260.8 1496.8,259.0 1504.0,257.4 1511.2,256.2 1518.5,255.2 1525.7,254.6 1533.0,254.3 1540.2,254.4 1547.5,254.7 1554.7,255.4 1561.9,256.3 1569.2,257.6 1576.4,259.3 1583.7,261.2 1590.9,263.4 1598.1,266.0 1605.4,268.9 1612.6,272.0 1619.9,275.5 1627.1,279.3 1634.4,283.4 1641.6,287.8 1648.8,292.5 1656.1,297.5 1663.3,302.7 1670.6,308.3 1677.8,314.1 1685.1,320.2 1692.3,326.6 1699.5,333.3 1706.8,340.2 1714.0,347.4 1721.3,354.9 1728.5,362.6 1735.7,370.5 1743.0,378.7 1750.2,387.1 1757.5,395.8 1764.7,404.6 1772.0,413.7 1779.2,423.0 1786.4,432.5 1793.7,442.2 1800.9,452.1 1808.2,462.2 1815.4,472.5 1822.6,482.9 1829.9,493.5 1837.1,504.3 1844.4,515.2 1851.6,526.3 1858.9,537.5 1866.1,548.8 1873.3,560.2 1880.6,571.8 1887.8,583.5 1895.1,595.2 1902.3,607.1 1909.6,619.0 1916.8,631.0 1924.0,643.1 1931.3,655.3 1938.5,667.5 1945.8,679.7 1953.0,691.9 1960.2,704.2 1967.5,716.5 1974.7,728.9 1982.0,741.2 1989.2,753.5 1996.5,765.8 2003.7,778.1 2010.9,790.3 2018.2,802.5 2025.4,814.6 2032.7,826.7 2039.9,838.8 2047.2,850.7 2054.4,862.6 2061.6,874.4 2068.9,886.1 2076.1,897.7 2083.4,909.2 2090.6,920.5 2097.8,931.7 2105.1,942.8 2112.3,953.8 2119.6,964.6 2126.8,975.2 2134.1,985.7 2141.3,996.0 2148.5,1006.2 2155.8,1016.1 2163.0,1025.9 2170.3,1035.4 2177.5,1044.8 2184.7,1053.9 2192.0,1062.9 2199.2,1071.6 2206.5,1080.0 2213.7,1088.3 2221.0,1096.3 2228.2,1104.0 2235.4,1111.6 2242.7,1118.8 2249.9,1125.8 2257.2,1132.5 2264.4,1139.0 2271.7,1145.2 2278.9,1151.1 2286.1,1156.7 2293.4,1162.1 2300.6,1167.1 2307.9,1171.9 2315.1,1176.3 2322.3,1180.5 2329.6,1184.4 2336.8,1187.9 2344.1,1191.2 2351.3,1194.1 2358.6,1196.8 2365.8,1199.1 2373.0,1201.1 2380.3,1202.8 2387.5,1204.2 2394.8,1205.2 2402.0,1206.0 2409.3,1206.4 2416.5,1206.5 2423.7,1206.3 2431.0,1205.8 2438.2,1204.9 2445.5,1203.7 2452.7,1202.3 2459.9,1200.5 2467.2,1198.3 2474.4,1195.9 2481.7,1193.2 2488.9,1190.1 2496.2,1186.8 2503.4,1183.1 2510.6,1179.1 2517.9,1174.9 2525.1,1170.3 2532.4,1165.4 2539.6,1160.3 2546.9,1154.9 2554.1,1149.1 2561.3,1143.1 2568.6,1136.9 2575.8,1130.3 2583.1,1123.5 2590.3,1116.4 2597.5,1109.1 2604.8,1101.5 2612.0,1093.6 2619.3,1085.6 2626.5,1077.2 2633.8,1068.7 2641.0,1059.9 2648.2,1050.9 2655.5,1041.7 2662.7,1032.3 2670.0,1022.6 2677.2,1012.8 2684.4,1002.8 2691.7,992.6 2698.9,982.2 2706.2,971.7 2713.4,961.0 2720.7,950.1 2727.9,939.1 2735.1,928.0 2742.4,916.7 2749.6,905.3 2756.9,893.8 2764.1,882.2 2771.4,870.5 2778.6,858.7 2785.8,846.7 2793.1,834.8 2800.3,822.7 2807.6,810.6 2814.8,798.4 2822.0,786.2 2829.3,774.0 2836.5,761.7 2843.8,749.4 2851.0,737.1 2858.3,724.7 2865.5,712.4 2872.7,700.1 2880.0,687.8 2887.2,675.6 2894.5,663.4 2901.7,651.2 2909.0,639.1 2916.2,627.0 2923.4,615.0 2930.7,603.1 2937.9,591.3 2945.2,579.6 2952.4,567.9 2959.6,556.4 2966.9,545.0 2974.1,533.7" fill="none" stroke="#3953a4" stroke-width="10.0" stroke-linejoin="round"/>
<polyline points="1235.1,493.4 1242.3,483.4 1249.6,473.6 1256.8,464.0 1264.1,454.5 1271.3,445.2 1278.5,436.1 1285.8,427.3 1293.0,418.6 1300.3,410.1 1307.5,401.9 1314.8,393.8 1322.0,386.0 1329.3,378.4 1336.5,371.1 1343.8,364.0 1351.0,357.1 1358.3,350.5 1365.5,344.2 1372.7,338.1 1380.0,332.2 1387.2,326.7 1394.5,321.4 1401.7,316.4 1409.0,311.6 1416.2,307.2 1423.5,303.0 1430.7,299.1 1438.0,295.5 1445.2,292.2 1452.5,289.2 1459.7,286.4 1466.9,284.0 1474.2,281.9 1481.4,280.1 1488.7,278.6 1495.9,277.3 1503.2,276.4 1510.4,275.8 1517.7,275.5 1524.9,275.5 1532.2,275.8 1539.4,276.4 1546.7,277.3 1553.9,278.5 1561.1,280.1 1568.4,281.9 1575.6,284.0 1582.9,286.4 1590.1,289.1 1597.4,292.1 1604.6,295.5 1611.9,299.1 1619.1,302.9 1626.4,307.1 1633.6,311.6 1640.8,316.3 1648.1,321.3 1655.3,326.6 1662.6,332.2 1669.8,338.0 1677.1,344.1 1684.3,350.4 1691.6,357.1 1698.8,363.9 1706.1,371.0 1713.3,378.3 1720.6,385.9 1727.8,393.7 1735.0,401.8 1742.3,410.0 1749.5,418.5 1756.8,427.2 1764.0,436.0 1771.3,445.1 1778.5,454.4 1785.8,463.9 1793.0,473.5 1800.3,483.3 1807.5,493.3 1814.8,503.4 1822.0,513.7 1829.2,524.1 1836.5,534.7 1843.7,545.4 1851.0,556.2 1858.2,567.1 1865.5,578.2 1872.7,589.3 1880.0,600.6 1887.2,611.9 1894.5,623.3 1901.7,634.8 1909.0,646.3 1916.2,657.9 1923.4,669.6 1930.7,681.3 1937.9,693.0 1945.2,704.7 1952.4,716.5 1959.7,728.3 1966.9,740.1 1974.2,751.8 1981.4,763.6 1988.7,775.3 1995.9,787.0 2003.2,798.7 2010.4,810.3 2017.6,821.9 2024.9,833.4 2032.1,844.8 2039.4,856.2 2046.6,867.5 2053.9,878.6 2061.1,889.7 2068.4,900.7 2075.6,911.6 2082.9,922.3 2090.1,932.9 2097.4,943.4 2104.6,953.7 2111.8,963.9 2119.1,973.9 2126.3,983.8 2133.6,993.5 2140.8,1003.0 2148.1,1012.4 2155.3,1021.5 2162.6,1030.5 2169.8,1039.2 2177.1,1047.8 2184.3,1056.1 2191.6,1064.2 2198.8,1072.1 2206.0,1079.8 2213.3,1087.2 2220.5,1094.4 2227.8,1101.3 2235.0,1108.0 2242.3,1114.4 2249.5,1120.6 2256.8,1126.6 2264.0,1132.2 2271.3,1137.6 2278.5,1142.7 2285.8,1147.6 2293.0,1152.1 2300.2,1156.4 2307.5,1160.4 2314.7,1164.1 2322.0,1167.5 2329.2,1170.6 2336.5,1173.4 2343.7,1176.0 2351.0,1178.2 2358.2,1180.1 2365.5,1181.8 2372.7,1183.1 2380.0,1184.1 2387.2,1184.8 2394.4,1185.2 2401.7,1185.3 2408.9,1185.1 2416.2,1184.6 2423.4,1183.8 2430.7,1182.7 2437.9,1181.3 2445.2,1179.6 2452.4,1177.6 2459.7,1175.3 2466.9,1172.6 2474.1,1169.7 2481.4,1166.5 2488.6,1163.0 2495.9,1159.2 2503.1,1155.2 2510.4,1150.8 2517.6,1146.2 2524.9,1141.2 2532.1,1136.1 2539.4,1130.6 2546.6,1124.9 2553.9,1118.9 2561.1,1112.6 2568.3,1106.1 2575.6,1099.3 2582.8,1092.3 2590.1,1085.0 2597.3,1077.5 2604.6,1069.8 2611.8,1061.9 2619.1,1053.7 2626.3,1045.3 2633.6,1036.7 2640.8,1027.9 2648.1,1018.9 2655.3,1009.7 2662.5,1000.3 2669.8,990.7 2677.0,980.9 2684.3,971.0 2691.5,961.0 2698.8,950.7 2706.0,940.4 2713.3,929.8 2720.5,919.2 2727.8,908.4 2735.0,897.5 2742.3,886.5 2749.5,875.4 2756.7,864.2 2764.0,852.9 2771.2,841.5 2778.5,830.0 2785.7,818.5 2793.0,806.9 2800.2,795.3 2807.5,783.6 2814.7,771.9 2822.0,760.2 2829.2,748.4 2836.5,736.6 2843.7,724.8 2850.9,713.1 2858.2,701.3 2865.4,689.6 2872.7,677.8 2879.9,666.2 2887.2,654.5 2894.4,642.9 2901.7,631.4 2908.9,620.0 2916.2,608.6 2923.4,597.3 2930.7,586.0 2937.9,574.9 2945.1,563.9 2952.4,553.0 2959.6,542.2 2966.9,531.6 2974.1,521.0" fill="none" stroke="#6dcbdd" stroke-width="10.0" stroke-linejoin="round"/>
<text transform="translate(1196.86 117.50) scale(0.734 1)" font-size="86.48" font-weight="bold" fill="#231f20" stroke="#231f20" stroke-width="3.0" stroke-linejoin="miter">E</text>
<text x="2055.15" y="105.90" font-size="56.25" fill="#636466" font-weight="normal" font-style="italic" >T</text>
<text x="2090.87" y="105.90" font-size="56.00" fill="#636466" font-weight="normal" font-style="normal" >,</text>
<text x="2134.15" y="106.80" font-size="57.65" fill="#636466" font-weight="normal" font-style="normal" >%</text>
<text x="3100.96" y="1277.00" font-size="56.00" fill="#636466" font-weight="normal" font-style="italic" >γ</text>
<text x="3128.97" y="1277.00" font-size="56.00" fill="#636466" font-weight="normal" font-style="normal" >,</text>
<circle cx="3155.3" cy="1243.6" r="5.9" fill="none" stroke="#636466" stroke-width="2.9"/>
<line x1="1236.0" y1="1104.0" x2="1332.0" y2="1104.0" stroke="#231f20" stroke-width="11.0"/>
<text x="1362.48" y="1122.30" font-size="68.00" fill="#231f20" font-weight="normal" font-style="normal" textLength="67.26" lengthAdjust="spacingAndGlyphs" >N:</text>
<text x="1451.51" y="1122.30" font-size="68.00" fill="#231f20" font-weight="normal" font-style="italic" >τ</text>
<text x="1477.77" y="1122.30" font-size="68.00" fill="#231f20" font-weight="normal" font-style="normal" textLength="98.68" lengthAdjust="spacingAndGlyphs" >=0°</text>
<line x1="1244.4" y1="1193.7" x2="1352.6" y2="1193.7" stroke="#ed1c24" stroke-width="10.6"/>
<text x="1383.32" y="1211.20" font-size="68.00" fill="#231f20" font-weight="normal" font-style="normal" textLength="207.50" lengthAdjust="spacingAndGlyphs" >2: 177°</text>
<line x1="2641.8" y1="1115.3" x2="2749.8" y2="1115.3" stroke="#6dcbdd" stroke-width="10.5"/>
<text x="2784.08" y="1133.10" font-size="68.00" fill="#231f20" font-weight="normal" font-style="normal" textLength="241.09" lengthAdjust="spacingAndGlyphs" >1: –188°</text>
<line x1="2641.8" y1="1193.8" x2="2749.8" y2="1193.8" stroke="#3953a4" stroke-width="10.4"/>
<text x="2782.32" y="1211.50" font-size="68.00" fill="#231f20" font-weight="normal" font-style="normal" textLength="242.88" lengthAdjust="spacingAndGlyphs" >3: –182°</text>
<line x1="2689.0" y1="2783.5" x2="4219.0" y2="2783.5" stroke="#636466" stroke-width="2.7"/>
<line x1="3442.6" y1="1853.0" x2="3442.6" y2="2800.5" stroke="#636466" stroke-width="2.7"/>
<line x1="2705.9" y1="2783.5" x2="2705.9" y2="2766.5" stroke="#636466" stroke-width="2.7"/>
<text x="2694.36" y="2838.40" font-size="48.00" fill="#231f20" font-weight="normal" font-style="normal" >0</text>
<line x1="2951.5" y1="2783.5" x2="2951.5" y2="2766.5" stroke="#636466" stroke-width="2.7"/>
<text x="2927.65" y="2838.40" font-size="48.00" fill="#231f20" font-weight="normal" font-style="normal" textLength="49.65" lengthAdjust="spacingAndGlyphs" >30</text>
<line x1="3197.0" y1="2783.5" x2="3197.0" y2="2766.5" stroke="#636466" stroke-width="2.7"/>
<text x="3172.91" y="2838.40" font-size="48.00" fill="#231f20" font-weight="normal" font-style="normal" textLength="49.65" lengthAdjust="spacingAndGlyphs" >60</text>
<line x1="3442.6" y1="2783.5" x2="3442.6" y2="2766.5" stroke="#636466" stroke-width="2.7"/>
<line x1="3688.1" y1="2783.5" x2="3688.1" y2="2766.5" stroke="#636466" stroke-width="2.7"/>
<text x="3651.03" y="2838.40" font-size="48.00" fill="#231f20" font-weight="normal" font-style="normal" textLength="74.48" lengthAdjust="spacingAndGlyphs" >120</text>
<line x1="3933.7" y1="2783.5" x2="3933.7" y2="2766.5" stroke="#636466" stroke-width="2.7"/>
<text x="3896.58" y="2838.40" font-size="48.00" fill="#231f20" font-weight="normal" font-style="normal" textLength="74.48" lengthAdjust="spacingAndGlyphs" >150</text>
<line x1="4179.2" y1="2783.5" x2="4179.2" y2="2766.5" stroke="#636466" stroke-width="2.7"/>
<text x="4142.13" y="2838.40" font-size="48.00" fill="#231f20" font-weight="normal" font-style="normal" textLength="74.48" lengthAdjust="spacingAndGlyphs" >180</text>
<line x1="3442.6" y1="2561.8" x2="3460.6" y2="2561.8" stroke="#636466" stroke-width="2.7"/>
<text x="3379.72" y="2577.65" font-size="48.00" fill="#231f20" font-weight="normal" font-style="normal" textLength="49.65" lengthAdjust="spacingAndGlyphs" >25</text>
<line x1="3442.6" y1="2340.0" x2="3460.6" y2="2340.0" stroke="#636466" stroke-width="2.7"/>
<text x="3379.59" y="2355.90" font-size="48.00" fill="#231f20" font-weight="normal" font-style="normal" textLength="49.65" lengthAdjust="spacingAndGlyphs" >50</text>
<line x1="3442.6" y1="2118.2" x2="3460.6" y2="2118.2" stroke="#636466" stroke-width="2.7"/>
<text x="3379.72" y="2134.15" font-size="48.00" fill="#231f20" font-weight="normal" font-style="normal" textLength="49.65" lengthAdjust="spacingAndGlyphs" >75</text>
<line x1="3442.6" y1="1896.5" x2="3460.6" y2="1896.5" stroke="#636466" stroke-width="2.7"/>
<text x="3354.76" y="1912.40" font-size="48.00" fill="#231f20" font-weight="normal" font-style="normal" textLength="74.48" lengthAdjust="spacingAndGlyphs" >100</text>
<path d="M2705.9 1861.0 V1932.0 M2689.9 1861.0 H2721.9 M2689.9 1932.0 H2721.9" stroke="#231f20" stroke-width="4.2" fill="none"/>
<circle cx="2705.9" cy="1896.5" r="11.0" fill="#231f20"/>
<path d="M2787.8 1874.3 V1959.5 M2771.8 1874.3 H2803.8 M2771.8 1959.5 H2803.8" stroke="#231f20" stroke-width="4.2" fill="none"/>
<circle cx="2787.8" cy="1916.9" r="11.0" fill="#231f20"/>
<path d="M2869.6 1937.3 V2034.9 M2853.6 1937.3 H2885.6 M2853.6 2034.9 H2885.6" stroke="#231f20" stroke-width="4.2" fill="none"/>
<circle cx="2869.6" cy="1986.1" r="11.0" fill="#231f20"/>
<path d="M2951.5 2034.0 V2119.1 M2935.5 2034.0 H2967.5 M2935.5 2119.1 H2967.5" stroke="#231f20" stroke-width="4.2" fill="none"/>
<circle cx="2951.5" cy="2076.6" r="11.0" fill="#231f20"/>
<path d="M3033.3 2169.7 V2246.0 M3017.3 2169.7 H3049.3 M3017.3 2246.0 H3049.3" stroke="#231f20" stroke-width="4.2" fill="none"/>
<circle cx="3033.3" cy="2207.8" r="11.0" fill="#231f20"/>
<path d="M3115.2 2338.2 V2400.3 M3099.2 2338.2 H3131.2 M3099.2 2400.3 H3131.2" stroke="#231f20" stroke-width="4.2" fill="none"/>
<circle cx="3115.2" cy="2369.3" r="11.0" fill="#231f20"/>
<path d="M3197.0 2508.5 V2552.9 M3181.0 2508.5 H3213.0 M3181.0 2552.9 H3213.0" stroke="#231f20" stroke-width="4.2" fill="none"/>
<circle cx="3197.0" cy="2530.7" r="11.0" fill="#231f20"/>
<path d="M3278.9 2654.0 V2671.7 M3262.9 2654.0 H3294.9 M3262.9 2671.7 H3294.9" stroke="#231f20" stroke-width="4.2" fill="none"/>
<circle cx="3278.9" cy="2662.9" r="11.0" fill="#231f20"/>
<path d="M3360.7 2748.0 V2756.9 M3344.7 2748.0 H3376.7 M3344.7 2756.9 H3376.7" stroke="#231f20" stroke-width="4.2" fill="none"/>
<circle cx="3360.7" cy="2752.5" r="11.0" fill="#231f20"/>
<circle cx="3442.6" cy="2783.5" r="11.0" fill="#231f20"/>
<path d="M3524.4 2748.0 V2756.9 M3508.4 2748.0 H3540.4 M3508.4 2756.9 H3540.4" stroke="#231f20" stroke-width="4.2" fill="none"/>
<circle cx="3524.4" cy="2752.5" r="11.0" fill="#231f20"/>
<path d="M3606.2 2642.5 V2660.2 M3590.2 2642.5 H3622.2 M3590.2 2660.2 H3622.2" stroke="#231f20" stroke-width="4.2" fill="none"/>
<circle cx="3606.2" cy="2651.3" r="11.0" fill="#231f20"/>
<path d="M3688.1 2471.3 V2510.3 M3672.1 2471.3 H3704.1 M3672.1 2510.3 H3704.1" stroke="#231f20" stroke-width="4.2" fill="none"/>
<circle cx="3688.1" cy="2490.8" r="11.0" fill="#231f20"/>
<path d="M3769.9 2328.5 V2390.6 M3753.9 2328.5 H3785.9 M3753.9 2390.6 H3785.9" stroke="#231f20" stroke-width="4.2" fill="none"/>
<circle cx="3769.9" cy="2359.5" r="11.0" fill="#231f20"/>
<path d="M3851.8 2167.0 V2229.1 M3835.8 2167.0 H3867.8 M3835.8 2229.1 H3867.8" stroke="#231f20" stroke-width="4.2" fill="none"/>
<circle cx="3851.8" cy="2198.1" r="11.0" fill="#231f20"/>
<path d="M3933.7 2034.9 V2098.7 M3917.7 2034.9 H3949.7 M3917.7 2098.7 H3949.7" stroke="#231f20" stroke-width="4.2" fill="none"/>
<circle cx="3933.7" cy="2066.8" r="11.0" fill="#231f20"/>
<path d="M4015.5 1928.4 V2004.7 M3999.5 1928.4 H4031.5 M3999.5 2004.7 H4031.5" stroke="#231f20" stroke-width="4.2" fill="none"/>
<circle cx="4015.5" cy="1966.6" r="11.0" fill="#231f20"/>
<path d="M4097.4 1871.7 V1937.3 M4081.4 1871.7 H4113.4 M4081.4 1937.3 H4113.4" stroke="#231f20" stroke-width="4.2" fill="none"/>
<circle cx="4097.4" cy="1904.5" r="11.0" fill="#231f20"/>
<path d="M2787.8 2416.3 V2487.2 M2771.8 2416.3 H2803.8 M2771.8 2487.2 H2803.8" stroke="#a2733d" stroke-width="4.2" fill="none"/>
<circle cx="2787.8" cy="2451.8" r="11.0" fill="#a2733d"/>
<path d="M2869.6 2459.7 V2521.8 M2853.6 2459.7 H2885.6 M2853.6 2521.8 H2885.6" stroke="#a2733d" stroke-width="4.2" fill="none"/>
<circle cx="2869.6" cy="2490.8" r="11.0" fill="#a2733d"/>
<path d="M2951.5 2481.0 V2543.1 M2935.5 2481.0 H2967.5 M2935.5 2543.1 H2967.5" stroke="#a2733d" stroke-width="4.2" fill="none"/>
<circle cx="2951.5" cy="2512.1" r="11.0" fill="#a2733d"/>
<path d="M3033.3 2490.8 V2552.9 M3017.3 2490.8 H3049.3 M3017.3 2552.9 H3049.3" stroke="#a2733d" stroke-width="4.2" fill="none"/>
<circle cx="3033.3" cy="2521.8" r="11.0" fill="#a2733d"/>
<path d="M3115.2 2486.4 V2548.4 M3099.2 2486.4 H3131.2 M3099.2 2548.4 H3131.2" stroke="#a2733d" stroke-width="4.2" fill="none"/>
<circle cx="3115.2" cy="2517.4" r="11.0" fill="#a2733d"/>
<path d="M3197.0 2442.9 V2513.9 M3181.0 2442.9 H3213.0 M3181.0 2513.9 H3213.0" stroke="#a2733d" stroke-width="4.2" fill="none"/>
<circle cx="3197.0" cy="2478.4" r="11.0" fill="#a2733d"/>
<path d="M3278.9 2428.7 V2508.5 M3262.9 2428.7 H3294.9 M3262.9 2508.5 H3294.9" stroke="#a2733d" stroke-width="4.2" fill="none"/>
<circle cx="3278.9" cy="2468.6" r="11.0" fill="#a2733d"/>
<path d="M3360.7 2334.7 V2423.4 M3344.7 2334.7 H3376.7 M3344.7 2423.4 H3376.7" stroke="#a2733d" stroke-width="4.2" fill="none"/>
<circle cx="3360.7" cy="2379.0" r="11.0" fill="#a2733d"/>
<path d="M3442.6 2282.3 V2371.0 M3426.6 2282.3 H3458.6 M3426.6 2371.0 H3458.6" stroke="#a2733d" stroke-width="4.2" fill="none"/>
<circle cx="3442.6" cy="2326.7" r="11.0" fill="#a2733d"/>
<path d="M3524.4 2198.1 V2277.9 M3508.4 2198.1 H3540.4 M3508.4 2277.9 H3540.4" stroke="#a2733d" stroke-width="4.2" fill="none"/>
<circle cx="3524.4" cy="2238.0" r="11.0" fill="#a2733d"/>
<path d="M3606.2 2158.2 V2238.0 M3590.2 2158.2 H3622.2 M3590.2 2238.0 H3622.2" stroke="#a2733d" stroke-width="4.2" fill="none"/>
<circle cx="3606.2" cy="2198.1" r="11.0" fill="#a2733d"/>
<path d="M3688.1 2178.6 V2258.4 M3672.1 2178.6 H3704.1 M3672.1 2258.4 H3704.1" stroke="#a2733d" stroke-width="4.2" fill="none"/>
<circle cx="3688.1" cy="2218.5" r="11.0" fill="#a2733d"/>
<path d="M3769.9 2167.9 V2247.8 M3753.9 2167.9 H3785.9 M3753.9 2247.8 H3785.9" stroke="#a2733d" stroke-width="4.2" fill="none"/>
<circle cx="3769.9" cy="2207.8" r="11.0" fill="#a2733d"/>
<path d="M2787.8 2394.1 V2465.1 M2771.8 2394.1 H2803.8 M2771.8 2465.1 H2803.8" stroke="#ed1c24" stroke-width="4.2" fill="none"/>
<circle cx="2787.8" cy="2429.6" r="11.0" fill="#ed1c24"/>
<path d="M2869.6 2433.1 V2504.1 M2853.6 2433.1 H2885.6 M2853.6 2504.1 H2885.6" stroke="#ed1c24" stroke-width="4.2" fill="none"/>
<circle cx="2869.6" cy="2468.6" r="11.0" fill="#ed1c24"/>
<path d="M2951.5 2490.8 V2552.9 M2935.5 2490.8 H2967.5 M2935.5 2552.9 H2967.5" stroke="#ed1c24" stroke-width="4.2" fill="none"/>
<circle cx="2951.5" cy="2521.8" r="11.0" fill="#ed1c24"/>
<path d="M3033.3 2499.7 V2561.8 M3017.3 2499.7 H3049.3 M3017.3 2561.8 H3049.3" stroke="#ed1c24" stroke-width="4.2" fill="none"/>
<circle cx="3033.3" cy="2530.7" r="11.0" fill="#ed1c24"/>
<path d="M3115.2 2509.4 V2571.5 M3099.2 2509.4 H3131.2 M3099.2 2571.5 H3131.2" stroke="#ed1c24" stroke-width="4.2" fill="none"/>
<circle cx="3115.2" cy="2540.5" r="11.0" fill="#ed1c24"/>
<path d="M3197.0 2468.6 V2530.7 M3181.0 2468.6 H3213.0 M3181.0 2530.7 H3213.0" stroke="#ed1c24" stroke-width="4.2" fill="none"/>
<circle cx="3197.0" cy="2499.7" r="11.0" fill="#ed1c24"/>
<path d="M3278.9 2456.2 V2527.2 M3262.9 2456.2 H3294.9 M3262.9 2527.2 H3294.9" stroke="#ed1c24" stroke-width="4.2" fill="none"/>
<circle cx="3278.9" cy="2491.7" r="11.0" fill="#ed1c24"/>
<path d="M3360.7 2343.5 V2432.2 M3344.7 2343.5 H3376.7 M3344.7 2432.2 H3376.7" stroke="#ed1c24" stroke-width="4.2" fill="none"/>
<circle cx="3360.7" cy="2387.9" r="11.0" fill="#ed1c24"/>
<path d="M3442.6 2285.0 V2373.7 M3426.6 2285.0 H3458.6 M3426.6 2373.7 H3458.6" stroke="#ed1c24" stroke-width="4.2" fill="none"/>
<circle cx="3442.6" cy="2329.4" r="11.0" fill="#ed1c24"/>
<path d="M3524.4 2218.5 V2298.3 M3508.4 2218.5 H3540.4 M3508.4 2298.3 H3540.4" stroke="#ed1c24" stroke-width="4.2" fill="none"/>
<circle cx="3524.4" cy="2258.4" r="11.0" fill="#ed1c24"/>
<path d="M3606.2 2137.8 V2217.6 M3590.2 2137.8 H3622.2 M3590.2 2217.6 H3622.2" stroke="#ed1c24" stroke-width="4.2" fill="none"/>
<circle cx="3606.2" cy="2177.7" r="11.0" fill="#ed1c24"/>
<path d="M3688.1 2147.5 V2227.4 M3672.1 2147.5 H3704.1 M3672.1 2227.4 H3704.1" stroke="#ed1c24" stroke-width="4.2" fill="none"/>
<circle cx="3688.1" cy="2187.4" r="11.0" fill="#ed1c24"/>
<path d="M3769.9 2147.5 V2227.4 M3753.9 2147.5 H3785.9 M3753.9 2227.4 H3785.9" stroke="#ed1c24" stroke-width="4.2" fill="none"/>
<circle cx="3769.9" cy="2187.4" r="11.0" fill="#ed1c24"/>
<path d="M3033.3 2194.5 V2283.2 M3017.3 2194.5 H3049.3 M3017.3 2283.2 H3049.3" stroke="#3953a4" stroke-width="4.2" fill="none"/>
<circle cx="3033.3" cy="2238.9" r="11.0" fill="#3953a4"/>
<path d="M3115.2 2144.0 V2259.3 M3099.2 2144.0 H3131.2 M3099.2 2259.3 H3131.2" stroke="#3953a4" stroke-width="4.2" fill="none"/>
<circle cx="3115.2" cy="2201.6" r="11.0" fill="#3953a4"/>
<path d="M3197.0 2153.7 V2263.7 M3181.0 2153.7 H3213.0 M3181.0 2263.7 H3213.0" stroke="#3953a4" stroke-width="4.2" fill="none"/>
<circle cx="3197.0" cy="2208.7" r="11.0" fill="#3953a4"/>
<path d="M3278.9 2230.0 V2327.6 M3262.9 2230.0 H3294.9 M3262.9 2327.6 H3294.9" stroke="#3953a4" stroke-width="4.2" fill="none"/>
<circle cx="3278.9" cy="2278.8" r="11.0" fill="#3953a4"/>
<path d="M3360.7 2260.2 V2357.7 M3344.7 2260.2 H3376.7 M3344.7 2357.7 H3376.7" stroke="#3953a4" stroke-width="4.2" fill="none"/>
<circle cx="3360.7" cy="2309.0" r="11.0" fill="#3953a4"/>
<path d="M3442.6 2329.4 V2409.2 M3426.6 2329.4 H3458.6 M3426.6 2409.2 H3458.6" stroke="#3953a4" stroke-width="4.2" fill="none"/>
<circle cx="3442.6" cy="2369.3" r="11.0" fill="#3953a4"/>
<path d="M3524.4 2425.2 V2474.8 M3508.4 2425.2 H3540.4 M3508.4 2474.8 H3540.4" stroke="#3953a4" stroke-width="4.2" fill="none"/>
<circle cx="3524.4" cy="2450.0" r="11.0" fill="#3953a4"/>
<path d="M3606.2 2471.3 V2510.3 M3590.2 2471.3 H3622.2 M3590.2 2510.3 H3622.2" stroke="#3953a4" stroke-width="4.2" fill="none"/>
<circle cx="3606.2" cy="2490.8" r="11.0" fill="#3953a4"/>
<path d="M3688.1 2505.0 V2536.9 M3672.1 2505.0 H3704.1 M3672.1 2536.9 H3704.1" stroke="#3953a4" stroke-width="4.2" fill="none"/>
<circle cx="3688.1" cy="2520.9" r="11.0" fill="#3953a4"/>
<path d="M3769.9 2471.3 V2510.3 M3753.9 2471.3 H3785.9 M3753.9 2510.3 H3785.9" stroke="#3953a4" stroke-width="4.2" fill="none"/>
<circle cx="3769.9" cy="2490.8" r="11.0" fill="#3953a4"/>
<path d="M3851.8 2461.5 V2500.5 M3835.8 2461.5 H3867.8 M3835.8 2500.5 H3867.8" stroke="#3953a4" stroke-width="4.2" fill="none"/>
<circle cx="3851.8" cy="2481.0" r="11.0" fill="#3953a4"/>
<path d="M3933.7 2450.9 V2489.9 M3917.7 2450.9 H3949.7 M3917.7 2489.9 H3949.7" stroke="#3953a4" stroke-width="4.2" fill="none"/>
<circle cx="3933.7" cy="2470.4" r="11.0" fill="#3953a4"/>
<path d="M4015.5 2427.8 V2472.2 M3999.5 2427.8 H4031.5 M3999.5 2472.2 H4031.5" stroke="#3953a4" stroke-width="4.2" fill="none"/>
<circle cx="4015.5" cy="2450.0" r="11.0" fill="#3953a4"/>
<path d="M4097.4 2372.8 V2426.0 M4081.4 2372.8 H4113.4 M4081.4 2426.0 H4113.4" stroke="#3953a4" stroke-width="4.2" fill="none"/>
<circle cx="4097.4" cy="2399.4" r="11.0" fill="#3953a4"/>
<polyline points="2705.9,1896.5 2712.0,1896.6 2718.0,1897.1 2724.1,1897.8 2730.1,1898.9 2736.2,1900.2 2742.2,1901.8 2748.3,1903.7 2754.3,1905.9 2760.4,1908.4 2766.4,1911.2 2772.5,1914.3 2778.5,1917.6 2784.6,1921.2 2790.6,1925.2 2796.7,1929.3 2802.8,1933.8 2808.8,1938.5 2814.9,1943.5 2820.9,1948.8 2827.0,1954.3 2833.0,1960.1 2839.1,1966.1 2845.1,1972.4 2851.2,1978.9 2857.2,1985.7 2863.3,1992.7 2869.3,1999.9 2875.4,2007.4 2881.5,2015.1 2887.5,2023.0 2893.6,2031.1 2899.6,2039.4 2905.7,2047.9 2911.7,2056.7 2917.8,2065.6 2923.8,2074.6 2929.9,2083.9 2935.9,2093.3 2942.0,2102.9 2948.0,2112.7 2954.1,2122.6 2960.1,2132.6 2966.2,2142.8 2972.3,2153.2 2978.3,2163.6 2984.4,2174.2 2990.4,2184.8 2996.5,2195.6 3002.5,2206.5 3008.6,2217.4 3014.6,2228.5 3020.7,2239.6 3026.7,2250.8 3032.8,2262.0 3038.8,2273.3 3044.9,2284.7 3050.9,2296.0 3057.0,2307.5 3063.1,2318.9 3069.1,2330.3 3075.2,2341.8 3081.2,2353.2 3087.3,2364.7 3093.3,2376.1 3099.4,2387.5 3105.4,2398.8 3111.5,2410.2 3117.5,2421.5 3123.6,2432.7 3129.6,2443.8 3135.7,2454.9 3141.8,2466.0 3147.8,2476.9 3153.9,2487.7 3159.9,2498.5 3166.0,2509.1 3172.0,2519.7 3178.1,2530.1 3184.1,2540.3 3190.2,2550.5 3196.2,2560.5 3202.3,2570.4 3208.3,2580.1 3214.4,2589.6 3220.4,2599.0 3226.5,2608.2 3232.6,2617.2 3238.6,2626.1 3244.7,2634.7 3250.7,2643.2 3256.8,2651.4 3262.8,2659.5 3268.9,2667.3 3274.9,2674.9 3281.0,2682.3 3287.0,2689.5 3293.1,2696.4 3299.1,2703.1 3305.2,2709.6 3311.2,2715.8 3317.3,2721.7 3323.4,2727.4 3329.4,2732.9 3335.5,2738.0 3341.5,2743.0 3347.6,2747.6 3353.6,2752.0 3359.7,2756.1 3365.7,2759.9 3371.8,2763.5 3377.8,2766.7 3383.9,2769.7 3389.9,2772.4 3396.0,2774.8 3402.1,2776.9 3408.1,2778.7 3414.2,2780.3 3420.2,2781.5 3426.3,2782.4 3432.3,2783.1 3438.4,2783.4 3444.4,2783.5 3450.5,2783.2 3456.5,2782.7 3462.6,2781.9 3468.6,2780.8 3474.7,2779.3 3480.7,2777.6 3486.8,2775.6 3492.9,2773.3 3498.9,2770.8 3505.0,2767.9 3511.0,2764.7 3517.1,2761.3 3523.1,2757.6 3529.2,2753.6 3535.2,2749.3 3541.3,2744.8 3547.3,2739.9 3553.4,2734.9 3559.4,2729.5 3565.5,2723.9 3571.5,2718.1 3577.6,2712.0 3583.7,2705.6 3589.7,2699.0 3595.8,2692.1 3601.8,2685.1 3607.9,2677.8 3613.9,2670.2 3620.0,2662.5 3626.0,2654.5 3632.1,2646.3 3638.1,2638.0 3644.2,2629.4 3650.2,2620.6 3656.3,2611.6 3662.4,2602.5 3668.4,2593.2 3674.5,2583.7 3680.5,2574.1 3686.6,2564.3 3692.6,2554.3 3698.7,2544.2 3704.7,2534.0 3710.8,2523.6 3716.8,2513.1 3722.9,2502.5 3728.9,2491.8 3735.0,2481.0 3741.0,2470.1 3747.1,2459.1 3753.2,2448.1 3759.2,2436.9 3765.3,2425.7 3771.3,2414.5 3777.4,2403.2 3783.4,2391.8 3789.5,2380.4 3795.5,2369.0 3801.6,2357.6 3807.6,2346.1 3813.7,2334.7 3819.7,2323.2 3825.8,2311.8 3831.8,2300.4 3837.9,2289.0 3844.0,2277.6 3850.0,2266.3 3856.1,2255.1 3862.1,2243.9 3868.2,2232.7 3874.2,2221.6 3880.3,2210.6 3886.3,2199.7 3892.4,2188.9 3898.4,2178.2 3904.5,2167.6 3910.5,2157.1 3916.6,2146.7 3922.7,2136.5 3928.7,2126.4 3934.8,2116.4 3940.8,2106.6 3946.9,2097.0 3952.9,2087.5 3959.0,2078.1 3965.0,2069.0 3971.1,2060.0 3977.1,2051.2 3983.2,2042.6 3989.2,2034.2 3995.3,2026.1 4001.3,2018.1 4007.4,2010.3 4013.5,2002.8 4019.5,1995.4 4025.6,1988.3 4031.6,1981.5 4037.7,1974.9 4043.7,1968.5 4049.8,1962.4 4055.8,1956.5 4061.9,1950.9 4067.9,1945.5 4074.0,1940.4 4080.0,1935.6 4086.1,1931.0 4092.1,1926.7 4098.2,1922.7 4104.3,1919.0 4110.3,1915.5 4116.4,1912.3 4122.4,1909.4 4128.5,1906.8 4134.5,1904.5 4140.6,1902.5 4146.6,1900.8 4152.7,1899.3 4158.7,1898.2" fill="none" stroke="#231f20" stroke-width="7.5" stroke-linejoin="round"/>
<polyline points="2705.9,2334.9 2712.0,2339.8 2718.0,2344.7 2724.1,2349.7 2730.1,2354.6 2736.2,2359.5 2742.2,2364.4 2748.3,2369.2 2754.3,2374.1 2760.4,2378.9 2766.4,2383.7 2772.5,2388.5 2778.5,2393.2 2784.6,2397.9 2790.6,2402.5 2796.7,2407.2 2802.8,2411.7 2808.8,2416.2 2814.9,2420.7 2820.9,2425.1 2827.0,2429.5 2833.0,2433.8 2839.1,2438.0 2845.1,2442.1 2851.2,2446.2 2857.2,2450.3 2863.3,2454.2 2869.3,2458.1 2875.4,2461.9 2881.5,2465.6 2887.5,2469.2 2893.6,2472.7 2899.6,2476.2 2905.7,2479.5 2911.7,2482.8 2917.8,2486.0 2923.8,2489.0 2929.9,2492.0 2935.9,2494.8 2942.0,2497.6 2948.0,2500.2 2954.1,2502.8 2960.1,2505.2 2966.2,2507.5 2972.3,2509.8 2978.3,2511.8 2984.4,2513.8 2990.4,2515.7 2996.5,2517.4 3002.5,2519.1 3008.6,2520.6 3014.6,2521.9 3020.7,2523.2 3026.7,2524.3 3032.8,2525.3 3038.8,2526.2 3044.9,2527.0 3050.9,2527.6 3057.0,2528.1 3063.1,2528.5 3069.1,2528.8 3075.2,2528.9 3081.2,2528.9 3087.3,2528.8 3093.3,2528.5 3099.4,2528.2 3105.4,2527.7 3111.5,2527.0 3117.5,2526.3 3123.6,2525.4 3129.6,2524.4 3135.7,2523.2 3141.8,2522.0 3147.8,2520.6 3153.9,2519.1 3159.9,2517.5 3166.0,2515.8 3172.0,2513.9 3178.1,2511.9 3184.1,2509.8 3190.2,2507.6 3196.2,2505.3 3202.3,2502.9 3208.3,2500.4 3214.4,2497.7 3220.4,2495.0 3226.5,2492.1 3232.6,2489.1 3238.6,2486.1 3244.7,2482.9 3250.7,2479.7 3256.8,2476.3 3262.8,2472.9 3268.9,2469.3 3274.9,2465.7 3281.0,2462.0 3287.0,2458.2 3293.1,2454.4 3299.1,2450.4 3305.2,2446.4 3311.2,2442.3 3317.3,2438.2 3323.4,2433.9 3329.4,2429.6 3335.5,2425.3 3341.5,2420.9 3347.6,2416.4 3353.6,2411.9 3359.7,2407.3 3365.7,2402.7 3371.8,2398.1 3377.8,2393.4 3383.9,2388.7 3389.9,2383.9 3396.0,2379.1 3402.1,2374.3 3408.1,2369.4 3414.2,2364.6 3420.2,2359.7 3426.3,2354.8 3432.3,2349.9 3438.4,2345.0 3444.4,2340.0 3450.5,2335.1 3456.5,2330.2 3462.6,2325.3 3468.6,2320.4 3474.7,2315.5 3480.7,2310.6 3486.8,2305.7 3492.9,2300.9 3498.9,2296.1 3505.0,2291.3 3511.0,2286.5 3517.1,2281.8 3523.1,2277.1 3529.2,2272.5 3535.2,2267.9 3541.3,2263.3 3547.3,2258.8 3553.4,2254.4 3559.4,2250.0 3565.5,2245.6 3571.5,2241.4 3577.6,2237.2 3583.7,2233.0 3589.7,2229.0 3595.8,2225.0 3601.8,2221.0 3607.9,2217.2 3613.9,2213.4 3620.0,2209.7 3626.0,2206.2 3632.1,2202.6 3638.1,2199.2 3644.2,2195.9 3650.2,2192.7 3656.3,2189.5 3662.4,2186.5 3668.4,2183.6 3674.5,2180.7 3680.5,2178.0 3686.6,2175.4 3692.6,2172.9 3698.7,2170.5 3704.7,2168.2 3710.8,2166.0 3716.8,2164.0 3722.9,2162.0 3728.9,2160.2 3735.0,2158.5 3741.0,2156.9 3747.1,2155.5 3753.2,2154.1 3759.2,2152.9 3765.3,2151.8 3771.3,2150.8 3777.4,2150.0 3783.4,2149.2 3789.5,2148.6 3795.5,2148.2 3801.6,2147.8 3807.6,2147.6 3813.7,2147.5 3819.7,2147.6 3825.8,2147.7 3831.8,2148.0 3837.9,2148.4 3844.0,2149.0 3850.0,2149.6 3856.1,2150.4 3862.1,2151.4 3868.2,2152.4 3874.2,2153.6 3880.3,2154.9 3886.3,2156.3 3892.4,2157.8 3898.4,2159.5 3904.5,2161.3 3910.5,2163.1 3916.6,2165.2 3922.7,2167.3 3928.7,2169.5 3934.8,2171.9 3940.8,2174.3 3946.9,2176.9 3952.9,2179.6 3959.0,2182.4 3965.0,2185.3 3971.1,2188.2 3977.1,2191.3 3983.2,2194.5 3989.2,2197.8 3995.3,2201.2 4001.3,2204.7 4007.4,2208.2 4013.5,2211.9 4019.5,2215.6 4025.6,2219.4 4031.6,2223.3 4037.7,2227.3 4043.7,2231.3 4049.8,2235.4 4055.8,2239.6 4061.9,2243.8 4067.9,2248.1 4074.0,2252.5 4080.0,2256.9 4086.1,2261.4 4092.1,2266.0 4098.2,2270.5 4104.3,2275.2 4110.3,2279.8 4116.4,2284.5 4122.4,2289.3 4128.5,2294.0 4134.5,2298.8 4140.6,2303.7 4146.6,2308.5 4152.7,2313.4 4158.7,2318.3" fill="none" stroke="#ed1c24" stroke-width="7.5" stroke-linejoin="round"/>
<polyline points="2705.9,2318.3 2712.0,2314.3 2718.0,2310.3 2724.1,2306.4 2730.1,2302.5 2736.2,2298.6 2742.2,2294.7 2748.3,2290.8 2754.3,2287.0 2760.4,2283.3 2766.4,2279.5 2772.5,2275.8 2778.5,2272.2 2784.6,2268.6 2790.6,2265.0 2796.7,2261.5 2802.8,2258.0 2808.8,2254.6 2814.9,2251.3 2820.9,2248.0 2827.0,2244.8 2833.0,2241.6 2839.1,2238.5 2845.1,2235.5 2851.2,2232.5 2857.2,2229.7 2863.3,2226.8 2869.3,2224.1 2875.4,2221.4 2881.5,2218.9 2887.5,2216.4 2893.6,2213.9 2899.6,2211.6 2905.7,2209.4 2911.7,2207.2 2917.8,2205.1 2923.8,2203.1 2929.9,2201.2 2935.9,2199.4 2942.0,2197.7 2948.0,2196.1 2954.1,2194.6 2960.1,2193.2 2966.2,2191.9 2972.3,2190.6 2978.3,2189.5 2984.4,2188.5 2990.4,2187.6 2996.5,2186.8 3002.5,2186.0 3008.6,2185.4 3014.6,2184.9 3020.7,2184.5 3026.7,2184.2 3032.8,2184.0 3038.8,2183.9 3044.9,2183.9 3050.9,2184.0 3057.0,2184.2 3063.1,2184.5 3069.1,2185.0 3075.2,2185.5 3081.2,2186.1 3087.3,2186.9 3093.3,2187.7 3099.4,2188.6 3105.4,2189.7 3111.5,2190.8 3117.5,2192.0 3123.6,2193.4 3129.6,2194.8 3135.7,2196.3 3141.8,2197.9 3147.8,2199.7 3153.9,2201.5 3159.9,2203.4 3166.0,2205.4 3172.0,2207.5 3178.1,2209.6 3184.1,2211.9 3190.2,2214.2 3196.2,2216.7 3202.3,2219.2 3208.3,2221.8 3214.4,2224.4 3220.4,2227.2 3226.5,2230.0 3232.6,2232.9 3238.6,2235.9 3244.7,2238.9 3250.7,2242.0 3256.8,2245.2 3262.8,2248.4 3268.9,2251.7 3274.9,2255.1 3281.0,2258.5 3287.0,2261.9 3293.1,2265.5 3299.1,2269.0 3305.2,2272.6 3311.2,2276.3 3317.3,2280.0 3323.4,2283.7 3329.4,2287.5 3335.5,2291.3 3341.5,2295.2 3347.6,2299.0 3353.6,2302.9 3359.7,2306.9 3365.7,2310.8 3371.8,2314.8 3377.8,2318.8 3383.9,2322.8 3389.9,2326.8 3396.0,2330.8 3402.1,2334.8 3408.1,2338.9 3414.2,2342.9 3420.2,2346.9 3426.3,2350.9 3432.3,2355.0 3438.4,2359.0 3444.4,2363.0 3450.5,2366.9 3456.5,2370.9 3462.6,2374.8 3468.6,2378.8 3474.7,2382.6 3480.7,2386.5 3486.8,2390.3 3492.9,2394.1 3498.9,2397.9 3505.0,2401.6 3511.0,2405.3 3517.1,2408.9 3523.1,2412.5 3529.2,2416.1 3535.2,2419.6 3541.3,2423.0 3547.3,2426.4 3553.4,2429.7 3559.4,2433.0 3565.5,2436.2 3571.5,2439.3 3577.6,2442.4 3583.7,2445.4 3589.7,2448.4 3595.8,2451.2 3601.8,2454.0 3607.9,2456.7 3613.9,2459.4 3620.0,2461.9 3626.0,2464.4 3632.1,2466.8 3638.1,2469.1 3644.2,2471.3 3650.2,2473.5 3656.3,2475.5 3662.4,2477.5 3668.4,2479.3 3674.5,2481.1 3680.5,2482.8 3686.6,2484.4 3692.6,2485.8 3698.7,2487.2 3704.7,2488.5 3710.8,2489.7 3716.8,2490.8 3722.9,2491.8 3728.9,2492.7 3735.0,2493.5 3741.0,2494.2 3747.1,2494.7 3753.2,2495.2 3759.2,2495.6 3765.3,2495.9 3771.3,2496.0 3777.4,2496.1 3783.4,2496.1 3789.5,2495.9 3795.5,2495.7 3801.6,2495.3 3807.6,2494.9 3813.7,2494.3 3819.7,2493.7 3825.8,2492.9 3831.8,2492.0 3837.9,2491.1 3844.0,2490.0 3850.0,2488.8 3856.1,2487.6 3862.1,2486.2 3868.2,2484.7 3874.2,2483.2 3880.3,2481.5 3886.3,2479.8 3892.4,2477.9 3898.4,2476.0 3904.5,2474.0 3910.5,2471.9 3916.6,2469.7 3922.7,2467.4 3928.7,2465.0 3934.8,2462.6 3940.8,2460.0 3946.9,2457.4 3952.9,2454.7 3959.0,2451.9 3965.0,2449.1 3971.1,2446.2 3977.1,2443.2 3983.2,2440.1 3989.2,2437.0 3995.3,2433.8 4001.3,2430.6 4007.4,2427.2 4013.5,2423.9 4019.5,2420.5 4025.6,2417.0 4031.6,2413.4 4037.7,2409.9 4043.7,2406.2 4049.8,2402.6 4055.8,2398.8 4061.9,2395.1 4067.9,2391.3 4074.0,2387.5 4080.0,2383.6 4086.1,2379.7 4092.1,2375.8 4098.2,2371.9 4104.3,2367.9 4110.3,2364.0 4116.4,2360.0 4122.4,2356.0 4128.5,2352.0 4134.5,2347.9 4140.6,2343.9 4146.6,2339.9 4152.7,2335.9 4158.7,2331.8" fill="none" stroke="#3953a4" stroke-width="7.5" stroke-linejoin="round"/>
<text transform="translate(2813.44 1727.90) scale(0.798 1)" font-size="87.79" font-weight="bold" fill="#231f20" stroke="#231f20" stroke-width="3.0" stroke-linejoin="miter">J</text>
<text x="3392.63" y="1816.00" font-size="48.69" fill="#636466" font-weight="normal" font-style="italic" >T</text>
<text x="3421.20" y="1816.00" font-size="49.00" fill="#636466" font-weight="normal" font-style="normal" >,</text>
<text x="3455.70" y="1816.00" font-size="47.56" fill="#636466" font-weight="normal" font-style="normal" >%</text>
<text x="4256.34" y="2797.00" font-size="49.00" fill="#636466" font-weight="normal" font-style="italic" >γ</text>
<text x="4280.60" y="2797.00" font-size="49.00" fill="#636466" font-weight="normal" font-style="normal" >,</text>
<circle cx="4303.0" cy="2771.0" r="5.2" fill="none" stroke="#636466" stroke-width="2.6"/>
<line x1="2827.2" y1="2634.0" x2="2918.0" y2="2634.0" stroke="#ed1c24" stroke-width="8.7"/>
<text x="2946.19" y="2648.10" font-size="58.00" fill="#231f20" font-weight="normal" font-style="normal" textLength="216.34" lengthAdjust="spacingAndGlyphs" >1,3: 164°</text>
<line x1="2985.3" y1="2738.4" x2="3075.5" y2="2738.4" stroke="#231f20" stroke-width="8.9"/>
<text x="3101.80" y="2752.10" font-size="57.00" fill="#231f20" font-weight="normal" font-style="normal" textLength="56.13" lengthAdjust="spacingAndGlyphs" >N:</text>
<text x="3176.41" y="2752.10" font-size="57.00" fill="#231f20" font-weight="normal" font-style="italic" >τ</text>
<text x="3198.06" y="2752.10" font-size="57.00" fill="#231f20" font-weight="normal" font-style="normal" textLength="83.18" lengthAdjust="spacingAndGlyphs" >=0°</text>
<line x1="3751.4" y1="2634.2" x2="3841.8" y2="2634.2" stroke="#3953a4" stroke-width="8.7"/>
<text x="3867.83" y="2647.20" font-size="57.00" fill="#231f20" font-weight="normal" font-style="normal" textLength="205.47" lengthAdjust="spacingAndGlyphs" >2: –169°</text>
</svg>
</body></html>
